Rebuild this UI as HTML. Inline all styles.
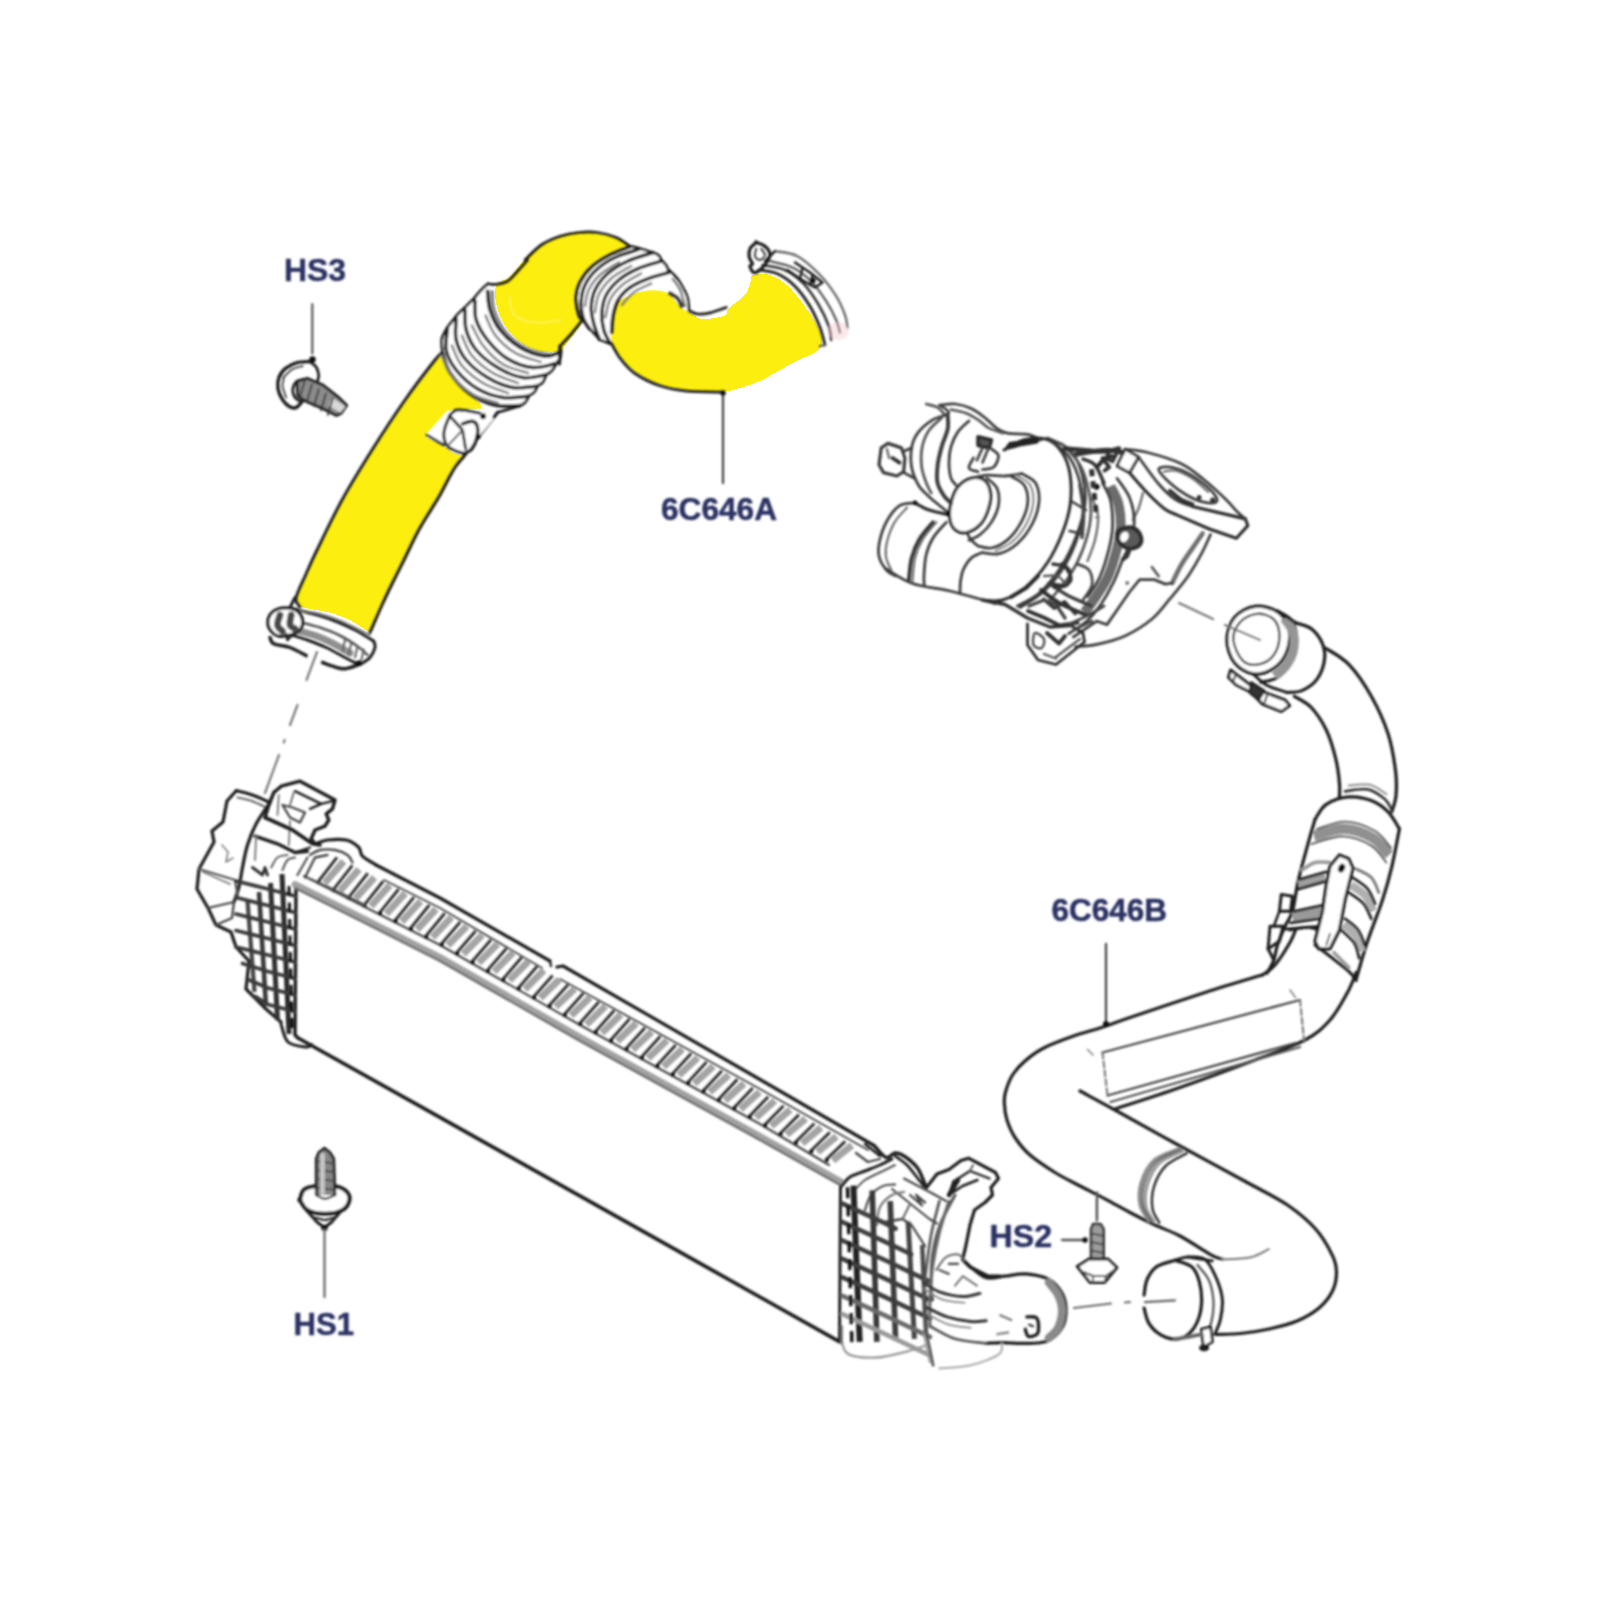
<!DOCTYPE html>
<html><head><meta charset="utf-8"><title>Intercooler hoses diagram</title>
<style>
html,body{margin:0;padding:0;background:#fff;}
body{width:1600px;height:1600px;overflow:hidden;font-family:"Liberation Sans",sans-serif;}
svg{display:block;}
</style></head><body>
<svg width="1600" height="1600" viewBox="0 0 1600 1600">
<defs><filter id="soft" x="0" y="0" width="1600" height="1600" filterUnits="userSpaceOnUse"><feGaussianBlur stdDeviation="1.0"/></filter></defs>
<rect width="1600" height="1600" fill="#fff"/>
<g shape-rendering="crispEdges">
<path d="M300.0 607.0L296.0 598.0L306.0 574.0L317.0 550.0L342.0 500.0L372.0 450.0L405.0 400.0L435.0 360.0L442.0 353.0L450.0 372.0L470.0 394.0L481.0 404.0L481.0 409.4L456.0 409.4L447.0 411.5L427.0 434.0L427.0 437.5L444.0 445.6L452.0 452.0L460.0 455.0L465.0 455.0L456.0 466.0L450.0 476.0L440.0 495.0L429.0 513.0L417.5 532.5L404.0 560.0L393.0 582.0L382.5 604.0L370.0 632.5L350.0 620.0L332.0 613.0Z" stroke="none" stroke-width="0.0" fill="#fcee0e" />
<path d="M496.0 286.0C494.0 291.7 495.3 302.8 498.0 311.0C500.7 319.2 506.0 328.5 512.0 335.0C518.0 341.5 526.3 347.2 534.0 350.0C541.7 352.8 552.7 353.0 558.0 352.0C563.3 351.0 562.0 349.3 566.0 344.0C570.0 338.7 580.3 327.8 582.0 320.0C583.7 312.2 576.3 303.5 576.0 297.0C575.7 290.5 576.3 286.7 580.0 281.0C583.7 275.3 589.7 268.5 598.0 263.0C606.3 257.5 627.0 252.2 630.0 248.0C633.0 243.8 621.3 240.5 616.0 238.0C610.7 235.5 604.2 234.0 598.0 233.0C591.8 232.0 585.3 231.5 579.0 232.0C572.7 232.5 566.5 233.7 560.0 236.0C553.5 238.3 545.8 242.2 540.0 246.0C534.2 249.8 530.0 253.8 525.0 259.0C520.0 264.2 514.8 272.5 510.0 277.0C505.2 281.5 498.0 280.3 496.0 286.0Z" stroke="none" stroke-width="0.0" fill="#fcee0e" />
<path d="M614.0 307.0C615.5 303.7 617.0 302.2 620.0 300.0C623.0 297.8 627.0 295.7 632.0 294.0C637.0 292.3 644.2 290.3 650.0 290.0C655.8 289.7 662.8 290.3 667.0 292.0C671.2 293.7 672.8 297.7 675.0 300.0C677.2 302.3 677.7 304.0 680.0 306.0C682.3 308.0 685.5 309.8 689.0 312.0C692.5 314.2 696.8 318.0 701.0 319.0C705.2 320.0 709.8 318.7 714.0 318.0C718.2 317.3 723.5 316.7 726.0 315.0C728.5 313.3 725.8 311.3 729.0 308.0C732.2 304.7 741.3 299.5 745.0 295.0C748.7 290.5 749.7 284.3 751.0 281.0C752.3 277.7 749.8 276.0 753.0 275.0C756.2 274.0 764.3 273.3 770.0 275.0C775.7 276.7 781.3 280.0 787.0 285.0C792.7 290.0 799.3 298.8 804.0 305.0C808.7 311.2 812.0 316.5 815.0 322.0C818.0 327.5 821.2 333.7 822.0 338.0C822.8 342.3 821.5 345.4 820.0 348.0C818.5 350.6 816.3 351.6 813.0 353.5C809.7 355.4 805.5 356.8 800.0 359.5C794.5 362.2 786.7 366.4 780.0 370.0C773.3 373.6 766.7 378.0 760.0 381.0C753.3 384.0 746.3 386.2 740.0 388.0C733.7 389.8 728.7 391.4 722.0 392.0C715.3 392.6 706.2 391.8 700.0 391.5C693.8 391.2 691.7 391.1 685.0 390.0C678.3 388.9 668.3 388.0 660.0 385.0C651.7 382.0 641.7 376.7 635.0 372.0C628.3 367.3 624.0 362.0 620.0 357.0C616.0 352.0 612.5 348.2 611.0 342.0C609.5 335.8 610.5 325.8 611.0 320.0C611.5 314.2 612.5 310.3 614.0 307.0Z" stroke="none" stroke-width="0.0" fill="#fcee0e" />
</g>
<g filter="url(#soft)" stroke-linecap="round" stroke-linejoin="round">
<path d="M300.0 607.0C299.3 605.5 295.0 603.5 296.0 598.0C297.0 592.5 302.5 582.0 306.0 574.0C309.5 566.0 311.0 562.3 317.0 550.0C323.0 537.7 332.8 516.7 342.0 500.0C351.2 483.3 361.5 466.7 372.0 450.0C382.5 433.3 394.5 415.0 405.0 400.0C415.5 385.0 428.8 367.8 435.0 360.0C441.2 352.2 440.8 354.2 442.0 353.0" stroke="#1c1c1c" stroke-width="2.88" fill="none" />
<path d="M370.0 632.5C372.1 627.8 378.7 612.4 382.5 604.0C386.3 595.6 389.4 589.3 393.0 582.0C396.6 574.7 399.9 568.2 404.0 560.0C408.1 551.8 413.3 540.3 417.5 532.5C421.7 524.7 425.2 519.2 429.0 513.0C432.8 506.8 436.5 501.2 440.0 495.0C443.5 488.8 447.3 480.8 450.0 476.0C452.7 471.2 453.5 469.5 456.0 466.0C458.5 462.5 461.3 459.8 465.0 455.0C468.7 450.2 472.5 444.7 478.0 437.5C483.5 430.3 494.7 416.2 498.0 412.0" stroke="#1c1c1c" stroke-width="2.99" fill="none" />
<path d="M481.2 409.4L456.2 409.4L446.9 411.2L426.9 433.8L426.9 437.5L443.8 445.6L451.9 451.9L460.0 455.0L465.0 454.4L478.1 437.5L493.8 418.8L481.2 409.4Z" stroke="none" stroke-width="0.0" fill="#fff" />
<path d="M426.9 435.0L443.8 445.0" stroke="#333" stroke-width="2.76" fill="none" />
<path d="M450.0 415.0C451.0 414.2 453.6 411.0 456.2 410.3C458.8 409.6 461.6 410.1 465.6 410.6C469.6 411.1 477.6 412.7 480.0 413.1" stroke="#1c1c1c" stroke-width="2.99" fill="none" />
<path d="M450.0 415.0C449.2 417.1 446.0 424.0 445.0 427.5C444.0 431.0 443.4 433.1 443.8 436.2C444.2 439.3 445.4 443.7 447.5 446.2C449.6 448.7 453.3 449.9 456.2 451.2C459.1 452.5 463.5 453.4 465.0 453.8" stroke="#1c1c1c" stroke-width="2.99" fill="none" />
<path d="M451.2 417.5L462.5 430.0L465.6 448.8" stroke="#1c1c1c" stroke-width="2.76" fill="none" />
<path d="M462.5 423.8C464.1 423.4 469.5 421.0 471.9 421.2C474.3 421.4 476.0 422.5 476.9 425.0C477.8 427.5 478.0 432.2 477.2 436.2C476.4 440.2 473.8 446.1 471.9 448.8C470.0 451.5 466.7 451.9 465.6 452.5" stroke="#1c1c1c" stroke-width="3.45" fill="none" />
<path d="M447.5 446.2L462.5 430.0" stroke="#555" stroke-width="1.84" fill="none" />
<circle cx="483.1" cy="416.2" r="3" fill="#111"/>
<circle cx="478.1" cy="436.6" r="2.6" fill="#111"/>
<path d="M497.5 412.5L520.0 406.0" stroke="#1c1c1c" stroke-width="2.76" fill="none" />
<path d="M487.5 283.8C485.3 284.9 478.8 293.6 475.0 297.5C471.2 301.4 468.1 304.4 465.0 307.5C461.9 310.6 459.1 312.9 456.2 316.2C453.3 319.5 449.8 323.9 447.5 327.5C445.2 331.1 443.4 333.3 442.5 337.5C441.6 341.7 440.6 346.7 441.9 352.5C443.1 358.3 445.3 365.6 450.0 372.5C454.7 379.4 462.5 388.4 470.0 393.8C477.5 399.2 486.7 403.0 495.0 405.0C503.3 407.0 514.4 407.1 520.0 405.6C525.6 404.1 525.9 399.4 528.8 396.2C531.7 393.0 534.6 389.7 537.5 386.2C540.4 382.7 543.1 378.7 546.2 375.0C549.3 371.3 553.7 367.8 556.2 363.8C558.7 359.8 563.1 352.5 561.2 351.2C559.3 349.9 551.9 356.8 545.0 356.2C538.1 355.6 527.5 351.9 520.0 347.5C512.5 343.1 505.0 336.2 500.0 330.0C495.0 323.8 492.0 316.5 490.0 310.0C488.0 303.5 488.5 295.6 488.1 291.2C487.7 286.8 489.7 282.8 487.5 283.8Z" stroke="none" stroke-width="0.0" fill="#fff" />
<path d="M492.0 292.0C492.3 295.2 491.7 304.2 494.0 311.0C496.3 317.8 500.5 326.7 506.0 333.0C511.5 339.3 519.7 345.3 527.0 349.0C534.3 352.7 546.2 354.0 550.0 355.0" stroke="#8a8a8a" stroke-width="3.91" fill="none" />
<path d="M487.5 291.2C487.9 294.3 487.9 303.5 490.0 310.0C492.1 316.5 495.0 323.8 500.0 330.0C505.0 336.2 512.5 343.1 520.0 347.5C527.5 351.9 538.3 355.4 545.0 356.2C551.7 357.0 557.5 353.1 560.0 352.5" stroke="#1c1c1c" stroke-width="3.45" fill="none" />
<path d="M475.0 301.2C475.2 304.3 474.1 313.5 476.2 320.0C478.3 326.5 482.3 333.5 487.5 340.0C492.7 346.5 500.0 354.2 507.5 358.8C515.0 363.4 524.6 366.7 532.5 367.5C540.4 368.3 551.2 364.4 555.0 363.8" stroke="#1c1c1c" stroke-width="3.45" fill="none" />
<path d="M465.0 310.0C465.2 313.3 464.3 323.3 466.2 330.0C468.1 336.7 471.0 343.8 476.2 350.0C481.4 356.2 489.8 362.9 497.5 367.5C505.2 372.1 514.6 376.2 522.5 377.5C530.4 378.8 541.2 375.4 545.0 375.0" stroke="#1c1c1c" stroke-width="3.45" fill="none" />
<path d="M456.2 318.8C456.2 322.3 454.5 333.1 456.2 340.0C457.9 346.9 461.0 353.8 466.2 360.0C471.4 366.2 479.8 372.9 487.5 377.5C495.2 382.1 504.4 386.1 512.5 387.5C520.6 388.9 532.2 386.4 536.2 386.2" stroke="#1c1c1c" stroke-width="3.45" fill="none" />
<path d="M447.5 328.8C447.3 332.3 444.8 343.1 446.2 350.0C447.6 356.9 451.0 363.5 456.2 370.0C461.4 376.5 469.8 384.2 477.5 388.8C485.2 393.4 494.2 396.3 502.5 397.5C510.8 398.7 523.3 396.4 527.5 396.2" stroke="#1c1c1c" stroke-width="3.45" fill="none" />
<path d="M442.5 352.5C443.8 355.8 445.4 365.6 450.0 372.5C454.6 379.4 462.5 388.4 470.0 393.8C477.5 399.2 486.7 403.0 495.0 405.0C503.3 407.0 515.8 405.5 520.0 405.6" stroke="#1c1c1c" stroke-width="3.45" fill="none" />
<path d="M485.6 315.6C487.3 318.9 490.6 329.4 495.6 335.6C500.6 341.9 508.1 348.7 515.6 353.1C523.1 357.5 536.4 360.4 540.6 361.9" stroke="#808080" stroke-width="2.53" fill="none" />
<path d="M471.9 325.6C473.8 328.9 477.9 339.1 483.1 345.6C488.3 352.1 495.6 359.8 503.1 364.4C510.6 369.0 523.9 371.7 528.1 373.1" stroke="#808080" stroke-width="2.53" fill="none" />
<path d="M461.9 335.6C463.6 338.9 466.7 349.4 471.9 355.6C477.1 361.9 485.4 368.5 493.1 373.1C500.8 377.7 513.9 381.4 518.1 383.1" stroke="#808080" stroke-width="2.53" fill="none" />
<path d="M451.9 345.6C453.6 348.9 456.7 359.4 461.9 365.6C467.1 371.9 475.4 378.5 483.1 383.1C490.8 387.7 503.9 391.4 508.1 393.1" stroke="#808080" stroke-width="2.53" fill="none" />
<path d="M441.9 355.6C443.6 358.9 446.7 369.1 451.9 375.6C457.1 382.1 465.4 389.8 473.1 394.4C480.8 399.0 493.9 401.7 498.1 403.1" stroke="#808080" stroke-width="2.53" fill="none" />
<path d="M488.1 283.8C487.2 284.6 484.7 286.5 482.5 288.8C480.3 291.1 476.2 295.4 475.0 297.5C473.8 299.6 475.0 300.6 475.0 301.2" stroke="#1c1c1c" stroke-width="2.76" fill="none" />
<path d="M475.0 297.5C473.3 299.2 466.7 305.4 465.0 307.5C463.3 309.6 465.0 309.6 465.0 310.0" stroke="#1c1c1c" stroke-width="2.76" fill="none" />
<path d="M465.0 307.5C463.5 308.9 457.7 314.3 456.2 316.2C454.7 318.1 456.2 318.4 456.2 318.8" stroke="#1c1c1c" stroke-width="2.76" fill="none" />
<path d="M456.2 316.2C454.8 318.1 448.9 325.4 447.5 327.5C446.1 329.6 447.5 328.6 447.5 328.8" stroke="#1c1c1c" stroke-width="2.76" fill="none" />
<path d="M447.5 327.5C446.6 329.4 442.7 334.6 441.9 338.8C441.1 343.0 442.4 350.2 442.5 352.5" stroke="#1c1c1c" stroke-width="2.76" fill="none" />
<path d="M561.2 350.0C561.0 351.5 561.0 356.5 560.0 358.8C559.0 361.1 555.8 363.0 555.0 363.8" stroke="#1c1c1c" stroke-width="2.76" fill="none" />
<path d="M556.2 363.8C555.4 365.0 553.1 369.3 551.2 371.2C549.3 373.1 546.0 374.4 545.0 375.0" stroke="#1c1c1c" stroke-width="2.76" fill="none" />
<path d="M546.2 375.0C545.6 376.2 544.2 380.6 542.5 382.5C540.8 384.4 537.2 385.6 536.2 386.2" stroke="#1c1c1c" stroke-width="2.76" fill="none" />
<path d="M537.5 386.2C536.9 387.2 535.5 390.8 533.8 392.5C532.1 394.2 528.5 395.6 527.5 396.2" stroke="#1c1c1c" stroke-width="2.76" fill="none" />
<path d="M528.8 396.2C528.2 397.2 526.5 400.9 525.0 402.5C523.5 404.1 520.8 405.1 520.0 405.6" stroke="#1c1c1c" stroke-width="2.76" fill="none" />
<path d="M527.5 260.0C525.8 261.9 520.8 267.7 517.5 271.2C514.2 274.7 511.2 279.0 507.5 281.2C503.8 283.4 498.2 284.0 495.0 284.4C491.8 284.8 489.2 283.9 488.1 283.8" stroke="#1c1c1c" stroke-width="2.76" fill="none" />
<path d="M525.0 260.0C527.7 257.5 535.4 249.0 541.2 245.0C547.0 241.0 553.7 238.3 560.0 236.2C566.3 234.1 572.5 233.1 578.8 232.5C585.0 231.9 591.3 231.7 597.5 232.5C603.7 233.3 610.8 235.2 616.2 237.5C621.6 239.8 627.7 244.8 630.0 246.2" stroke="#1c1c1c" stroke-width="2.76" fill="none" />
<path d="M510.0 297.5C510.4 300.0 509.8 308.6 512.5 312.5C515.2 316.4 520.8 319.5 526.2 321.2C531.6 322.9 539.2 322.7 545.0 322.5C550.8 322.3 558.5 320.4 561.2 320.0" stroke="#fdf57a" stroke-width="1.38" fill="none" />
<path d="M582.5 320.0C580.8 322.1 576.2 328.1 572.5 332.5C568.8 336.9 562.1 343.9 560.0 346.2" stroke="#1c1c1c" stroke-width="2.76" fill="none" />
<path d="M560.0 346.2L559.4 363.8" stroke="#1c1c1c" stroke-width="3.45" fill="none" />
<path d="M630.0 246.2C625.0 247.2 616.5 251.4 610.0 255.0C603.5 258.6 596.2 262.9 591.2 267.5C586.2 272.1 582.5 277.5 580.0 282.5C577.5 287.5 576.4 292.1 576.2 297.5C576.0 302.9 577.8 311.2 578.8 315.0C579.8 318.8 580.8 317.7 582.5 320.0C584.2 322.3 586.1 325.5 588.8 328.8C591.5 332.1 595.3 337.5 598.8 340.0C602.3 342.5 607.9 345.1 610.0 343.8C612.1 342.6 610.8 337.3 611.2 332.5C611.6 327.7 611.5 320.0 612.5 315.0C613.5 310.0 614.2 306.0 617.5 302.5C620.8 299.0 627.1 295.9 632.5 293.8C637.9 291.7 644.2 290.2 650.0 290.0C655.8 289.8 663.3 290.8 667.5 292.5C671.7 294.2 672.9 297.7 675.0 300.0C677.1 302.3 677.7 304.3 680.0 306.2C682.3 308.1 687.5 312.6 688.8 311.2C690.0 309.8 688.5 301.4 687.5 297.5C686.5 293.6 685.0 290.8 682.5 287.5C680.0 284.2 674.8 280.4 672.5 277.5C670.2 274.6 670.7 272.9 668.8 270.0C666.9 267.1 663.9 262.9 661.2 260.0C658.5 257.1 656.0 254.4 652.5 252.5C649.0 250.6 643.8 249.9 640.0 248.8C636.2 247.8 635.0 245.2 630.0 246.2Z" stroke="none" stroke-width="0.0" fill="#fff" />
<path d="M630.0 246.9C626.7 248.2 616.5 251.6 610.0 255.0C603.5 258.4 596.2 262.9 591.2 267.5C586.2 272.1 582.5 277.5 580.0 282.5C577.5 287.5 576.4 292.1 576.2 297.5C576.0 302.9 577.6 311.1 578.8 315.0C579.9 318.9 582.4 319.7 583.1 320.6" stroke="#1c1c1c" stroke-width="3.45" fill="none" />
<path d="M638.8 249.4C634.8 250.8 622.1 254.1 615.0 257.5C607.9 260.9 601.2 265.4 596.2 270.0C591.2 274.6 587.5 279.8 585.0 285.0C582.5 290.2 581.5 295.8 581.2 301.2C580.9 306.6 581.7 312.9 583.1 317.5C584.5 322.1 588.4 326.9 589.4 328.8" stroke="#1c1c1c" stroke-width="3.45" fill="none" />
<path d="M652.5 252.8C648.3 254.2 635.0 257.7 627.5 261.2C620.0 264.7 612.9 269.0 607.5 273.8C602.1 278.6 597.7 284.4 595.0 290.0C592.3 295.6 591.4 301.9 591.2 307.5C591.0 313.1 592.4 318.5 593.8 323.8C595.2 329.1 598.5 336.8 599.4 339.4" stroke="#1c1c1c" stroke-width="3.45" fill="none" />
<path d="M661.2 261.2C657.2 262.5 644.6 265.7 637.5 268.8C630.4 271.9 624.0 275.6 618.8 280.0C613.6 284.4 609.0 289.6 606.2 295.0C603.4 300.4 602.3 306.7 601.9 312.5C601.5 318.3 602.4 324.9 603.8 330.0C605.1 335.1 609.0 340.9 610.0 343.1" stroke="#1c1c1c" stroke-width="3.45" fill="none" />
<path d="M668.8 272.5C665.2 273.6 654.0 276.3 647.5 278.8C641.0 281.3 634.9 284.0 630.0 287.5C625.1 291.0 620.9 295.4 618.1 300.0C615.3 304.6 614.2 309.6 613.1 315.0C612.0 320.4 611.8 329.6 611.5 332.5" stroke="#1c1c1c" stroke-width="3.45" fill="none" />
<path d="M618.8 262.2C615.7 264.3 605.0 270.2 600.0 274.8C595.0 279.4 591.3 284.6 588.8 289.8C586.3 295.0 585.6 303.3 585.0 306.0" stroke="#808080" stroke-width="2.53" fill="none" />
<path d="M631.2 266.0C627.9 268.1 616.6 273.7 611.2 278.5C605.8 283.3 601.5 289.2 598.8 294.8C596.1 300.4 595.6 309.3 595.0 312.2" stroke="#808080" stroke-width="2.53" fill="none" />
<path d="M641.2 273.5C638.1 275.4 627.7 280.4 622.5 284.8C617.3 289.2 612.8 294.4 610.0 299.8C607.2 305.2 606.3 314.3 605.6 317.2" stroke="#808080" stroke-width="2.53" fill="none" />
<path d="M651.2 283.5C648.3 284.9 638.7 288.6 633.8 292.2C628.9 295.8 623.9 302.7 621.9 304.8" stroke="#808080" stroke-width="2.53" fill="none" />
<path d="M630.0 246.2C631.7 246.6 636.2 247.4 640.0 248.5C643.8 249.6 650.4 251.8 652.5 252.5" stroke="#1c1c1c" stroke-width="2.76" fill="none" />
<path d="M652.5 252.2C653.5 252.8 657.3 254.1 658.8 255.6C660.3 257.1 661.0 260.3 661.5 261.2" stroke="#1c1c1c" stroke-width="2.76" fill="none" />
<path d="M661.2 260.0C662.0 260.9 664.9 263.5 666.2 265.6C667.5 267.7 668.5 271.4 669.0 272.5" stroke="#1c1c1c" stroke-width="2.76" fill="none" />
<path d="M668.8 270.0C670.2 271.5 675.1 275.8 677.5 278.8C679.9 281.8 681.4 285.0 683.1 288.1C684.8 291.2 686.5 293.8 687.5 297.5C688.5 301.2 688.8 308.4 689.0 310.6" stroke="#1c1c1c" stroke-width="2.76" fill="none" />
<path d="M670.0 293.1C671.2 293.9 675.5 295.9 677.5 298.1C679.5 300.3 681.2 304.9 681.9 306.2" stroke="#333" stroke-width="4.14" fill="none" />
<path d="M672.5 278.8C673.8 280.7 677.9 285.4 680.0 290.0C682.1 294.6 684.2 303.5 685.0 306.2" stroke="#555" stroke-width="2.07" fill="none" />
<path d="M583.1 320.0L589.4 328.8" stroke="#1c1c1c" stroke-width="2.76" fill="none" />
<path d="M589.4 328.1L599.4 339.4" stroke="#1c1c1c" stroke-width="2.76" fill="none" />
<path d="M599.4 339.4L610.0 343.8" stroke="#1c1c1c" stroke-width="2.76" fill="none" />
<path d="M688.8 310.6C690.2 311.2 694.0 313.6 697.5 314.0C701.0 314.4 705.2 313.9 710.0 312.8C714.8 311.7 723.5 308.4 726.2 307.5" stroke="#1c1c1c" stroke-width="2.76" fill="none" />
<path d="M611.2 343.1C612.7 345.6 616.0 353.0 620.0 358.1C624.0 363.2 628.3 368.9 635.0 373.5C641.7 378.1 651.7 382.9 660.0 385.8C668.3 388.7 674.6 389.7 685.0 390.8C695.4 391.9 716.2 392.0 722.5 392.2" stroke="#1c1c1c" stroke-width="2.76" fill="none" />
<path d="M758.8 270.0C761.9 270.6 771.5 271.1 777.5 273.8C783.5 276.5 789.6 280.8 795.0 286.2C800.4 291.6 805.8 299.3 810.0 306.2C814.2 313.1 817.5 321.0 820.0 327.5C822.5 334.0 824.2 342.1 825.0 345.0" stroke="#1c1c1c" stroke-width="2.76" fill="none" />
<path d="M762.5 265.0C766.2 265.8 778.1 266.9 785.0 270.0C791.9 273.1 798.2 278.0 803.8 283.8C809.4 289.6 814.6 297.9 818.8 305.0C823.0 312.1 826.7 320.4 828.8 326.2C830.9 332.0 830.8 337.7 831.2 340.0" stroke="#333" stroke-width="2.53" fill="none" />
<path d="M770.0 261.2C773.8 262.2 785.6 264.2 792.5 267.5C799.4 270.8 805.6 275.6 811.2 281.2C816.8 286.8 822.0 294.7 826.2 301.2C830.4 307.7 833.9 314.8 836.2 320.0C838.5 325.2 839.4 330.4 840.0 332.5" stroke="#555" stroke-width="2.3" fill="none" />
<path d="M775.0 251.2C778.8 252.0 790.0 252.2 797.5 256.2C805.0 260.2 813.5 268.3 820.0 275.0C826.5 281.7 832.0 289.5 836.2 296.2C840.4 302.9 843.1 309.8 845.0 315.0C846.9 320.2 847.1 325.4 847.5 327.5" stroke="#666" stroke-width="2.3" fill="none" />
<path d="M775.0 251.2C774.2 252.0 771.7 254.5 770.0 256.2C768.3 257.9 765.8 260.4 765.0 261.2" stroke="#1c1c1c" stroke-width="2.53" fill="none" />
<path d="M795.0 262.5L810.0 272.5L822.5 282.5L815.0 287.5L800.0 278.8L787.5 270.0" stroke="#1c1c1c" stroke-width="2.53" fill="none" />
<path d="M802.5 267.5L800.0 278.8" stroke="#1c1c1c" stroke-width="2.3" fill="none" />
<path d="M812.5 275.0L810.0 285.0" stroke="#1c1c1c" stroke-width="2.3" fill="none" />
<circle cx="813.1" cy="280.6" r="2.6" fill="#111"/>
<path d="M756.2 242.5C755.2 243.6 751.1 246.3 750.0 248.8C748.9 251.3 749.0 255.0 749.4 257.5C749.8 260.0 752.4 262.4 752.5 263.8C752.6 265.2 749.8 264.8 750.0 266.2C750.2 267.6 752.1 271.9 753.8 272.5C755.5 273.1 757.7 271.9 760.0 270.0C762.3 268.1 765.8 263.9 767.5 261.2C769.2 258.5 770.4 256.3 770.0 253.8C769.6 251.3 767.3 248.1 765.0 246.2C762.7 244.3 757.7 243.1 756.2 242.5C754.7 241.9 757.2 241.4 756.2 242.5Z" stroke="#1c1c1c" stroke-width="3.22" fill="none" />
<path d="M756.2 248.8C756.0 250.0 754.4 254.3 755.0 256.2C755.6 258.1 758.3 260.2 760.0 260.0C761.7 259.8 764.8 256.9 765.0 255.0C765.2 253.1 761.8 249.8 761.2 248.8" stroke="#444" stroke-width="2.07" fill="none" />
<ellipse cx="838" cy="331" rx="11" ry="9" fill="#f6c6cc" opacity="0.4"/>
<path d="M825.0 345.0L820.0 346.2" stroke="#555" stroke-width="2.3" fill="none" />
<path d="M295.0 597.5L290.0 607.5" stroke="#1c1c1c" stroke-width="2.99" fill="none" />
<path d="M290.0 608.1C292.9 608.8 300.4 610.5 307.5 612.5C314.6 614.5 324.6 617.1 332.5 620.0C340.4 622.9 348.1 626.5 355.0 630.0C361.9 633.5 370.7 639.3 373.8 641.2" stroke="#1c1c1c" stroke-width="2.99" fill="none" />
<path d="M300.0 610.0C303.3 610.6 313.5 612.1 320.0 613.8C326.5 615.5 332.6 617.5 338.8 620.0C345.1 622.5 352.3 626.3 357.5 628.8C362.7 631.3 367.9 634.0 370.0 635.0" stroke="#777" stroke-width="1.84" fill="none" />
<path d="M373.8 641.2C374.0 642.2 375.6 644.8 375.0 647.5C374.4 650.2 372.3 654.8 370.0 657.5C367.7 660.2 362.7 662.8 361.2 663.8" stroke="#1c1c1c" stroke-width="2.99" fill="none" />
<path d="M291.2 635.0C293.9 635.8 301.7 637.9 307.5 640.0C313.3 642.1 319.9 644.6 326.2 647.5C332.4 650.4 339.8 654.8 345.0 657.5C350.2 660.2 355.4 662.8 357.5 663.8" stroke="#1c1c1c" stroke-width="2.99" fill="none" />
<path d="M301.2 622.5C304.3 623.3 313.7 625.4 320.0 627.5C326.3 629.6 332.6 631.9 338.8 635.0C345.1 638.1 352.7 642.9 357.5 646.2C362.3 649.5 365.8 653.5 367.5 655.0" stroke="#555" stroke-width="2.53" fill="none" />
<path d="M297.5 630.6C300.4 631.4 309.2 633.5 315.0 635.6C320.8 637.7 326.7 640.2 332.5 643.1C338.3 646.0 347.1 651.4 350.0 653.1" stroke="#8f8f8f" stroke-width="6.9" fill="none" />
<path d="M345.0 640.0L342.5 651.2" stroke="#666" stroke-width="2.07" fill="none" />
<path d="M351.2 643.1L348.8 654.4" stroke="#666" stroke-width="2.07" fill="none" />
<path d="M357.5 646.2L355.0 657.5" stroke="#666" stroke-width="2.07" fill="none" />
<path d="M363.8 649.4L361.2 660.6" stroke="#666" stroke-width="2.07" fill="none" />
<path d="M270.0 637.5C270.6 638.5 270.5 642.1 273.8 643.8C277.1 645.5 284.6 645.5 290.0 647.5C295.4 649.5 303.5 654.2 306.2 655.6" stroke="#1c1c1c" stroke-width="3.45" fill="none" />
<path d="M322.5 662.5C324.2 663.1 328.8 665.2 332.5 666.2C336.2 667.2 340.4 669.1 345.0 668.8C349.6 668.5 357.5 665.1 360.0 664.4" stroke="#1c1c1c" stroke-width="3.45" fill="none" />
<circle cx="358.8" cy="663.1" r="2.8" fill="#111"/>
<path d="M290.0 608.1C286.9 607.7 282.1 607.6 278.8 608.8C275.5 609.9 271.8 612.3 270.0 615.0C268.2 617.7 267.7 622.1 268.1 625.0C268.5 627.9 270.7 630.6 272.5 632.5C274.3 634.4 275.9 635.8 278.8 636.2C281.7 636.6 286.5 636.0 290.0 635.0C293.5 634.0 297.9 632.5 300.0 630.0C302.1 627.5 302.9 623.1 302.5 620.0C302.1 616.9 299.6 613.2 297.5 611.2C295.4 609.2 293.1 608.5 290.0 608.1Z" stroke="#1c1c1c" stroke-width="3.22" fill="#fff" />
<path d="M280.0 615.0C279.6 616.7 277.1 622.3 277.5 625.0C277.9 627.7 281.7 630.2 282.5 631.2" stroke="#4a4a4a" stroke-width="6.9" fill="none" />
<path d="M291.2 615.0C291.0 616.7 289.4 622.7 290.0 625.0C290.6 627.3 294.2 628.2 295.0 628.8" stroke="#4a4a4a" stroke-width="6.9" fill="none" />
<path d="M286.2 633.8L287.5 640.0" stroke="#1c1c1c" stroke-width="2.3" fill="none" />
<path d="M292.5 635.0L287.5 640.0" stroke="#1c1c1c" stroke-width="2.3" fill="none" />
<path d="M317 652L306.5 680M297.5 705L290 725M284.6 740L283.8 742.5M279 755L265 793" stroke="#7a7a7a" stroke-width="2.2" fill="none"/>
<path d="M312.3 304.1L312.3 353.6" stroke="#555" stroke-width="2.18" fill="none" />
<circle cx="312.5" cy="359.5" r="3.2" fill="#111"/>
<path d="M309.5 361.5C307.4 361.7 301.0 361.5 297.1 362.6C293.2 363.7 288.9 365.8 285.9 368.2C282.9 370.6 280.4 373.8 279.1 377.2C277.8 380.6 277.4 384.8 278.0 388.5C278.6 392.2 280.6 396.7 282.5 399.7C284.4 402.7 286.9 405.2 289.2 406.5C291.4 407.8 293.9 408.4 296.0 407.6C298.1 406.9 300.8 402.9 301.8 402.0" stroke="#1c1c1c" stroke-width="3.45" fill="none" />
<path d="M309.5 361.5C310.6 362.4 314.7 364.9 316.2 367.1C317.7 369.4 318.5 372.6 318.7 375.0C318.9 377.4 317.8 380.2 317.6 381.2" stroke="#1c1c1c" stroke-width="2.76" fill="none" />
<path d="M301.8 402.0C300.6 401.2 296.4 399.6 294.9 397.5C293.4 395.4 292.6 392.2 292.8 389.6C293.0 387.0 294.4 383.7 296.2 382.0C297.9 380.3 302.1 379.9 303.3 379.5" stroke="#1c1c1c" stroke-width="2.76" fill="none" />
<path d="M283.1 377.8C284.6 376.4 288.8 371.4 292.1 369.4C295.4 367.4 300.9 366.6 302.7 366.0" stroke="#555" stroke-width="2.07" fill="none" />
<path d="M286.1 397.5C285.5 395.6 282.9 389.3 282.5 386.2C282.1 383.1 283.6 379.9 283.8 378.6" stroke="#555" stroke-width="2.07" fill="none" />
<path d="M297.1 381.2L307.2 378.4L323.0 385.1L338.7 397.5L346.6 405.4L341.2 413.2L336.5 415.5L323.0 408.7L305.0 400.9L297.7 395.8Z" stroke="#222" stroke-width="2.99" fill="#8c8c8c" />
<path d="M332.0 397.5L345.5 406.5L340.4 412.7L328.6 405.4Z" stroke="none" stroke-width="0.0" fill="#d8d8d8" />
<path d="M305.0 380.1L299.9 396.9" stroke="#333" stroke-width="1.72" fill="none" />
<path d="M312.0 384.6L306.9 401.4" stroke="#333" stroke-width="1.72" fill="none" />
<path d="M318.9 389.1L313.9 405.9" stroke="#333" stroke-width="1.72" fill="none" />
<path d="M325.9 393.6L320.9 410.4" stroke="#333" stroke-width="1.72" fill="none" />
<path d="M332.9 398.1L327.8 414.9" stroke="#333" stroke-width="1.72" fill="none" />
<path d="M296.0 884.0L295.0 1035.0L298.0 1038.0" stroke="#1c1c1c" stroke-width="3.45" fill="none" />
<path d="M298.0 1038.0L440.0 1117.3L640.0 1229.6L839.4 1341.7" stroke="#1c1c1c" stroke-width="3.68" fill="none" />
<path d="M840.5 1186.0L839.5 1342.0" stroke="#1c1c1c" stroke-width="2.99" fill="none" />
<path d="M295.0 884.5L365.0 919.5L440.0 957.5L580.0 1037.5L760.0 1136.5L842.0 1182.5" stroke="#a2a2a2" stroke-width="6.9" fill="none" />
<path d="M295.0 888.0L365.0 923.0L440.0 961.0L580.0 1041.0L760.0 1140.0L842.0 1186.0" stroke="#666" stroke-width="2.07" fill="none" />
<path d="M304.0 876.0L365.0 907.0L440.0 945.0L580.0 1025.0L760.0 1124.0L829.0 1165.0" stroke="#444" stroke-width="2.07" fill="none" />
<path d="M376.0 865.0L440.0 898.0L550.0 961.0" stroke="#1c1c1c" stroke-width="3.22" fill="none" />
<path d="M550.0 961.0L551.0 966.0" stroke="#1c1c1c" stroke-width="2.3" fill="none" />
<path d="M557.0 967.0L563.0 966.0L760.0 1079.5L874.0 1145.5" stroke="#1c1c1c" stroke-width="3.22" fill="none" />
<path d="M384.0 880.0L440.0 908.0L542.0 968.0" stroke="#444" stroke-width="1.84" fill="none" />
<path d="M560.0 979.0L760.0 1089.0L868.0 1150.0" stroke="#444" stroke-width="1.84" fill="none" />
<path d="M324.7 883.0L343.7 861.4M340.1 890.7L359.1 869.3M355.5 898.4L374.5 877.3M370.9 906.1L389.9 885.2M386.3 913.9L405.3 893.2M401.7 921.7L420.7 901.1M417.1 929.5L436.1 909.0M432.5 937.3L451.5 917.2M447.9 945.2L466.9 926.1M463.3 954.0L482.3 934.9M478.7 962.8L497.7 943.7M494.1 971.6L513.1 952.5M509.5 980.4L528.5 961.3M524.9 989.2L543.9 970.2M540.3 998.0L559.3 979.4M555.7 1006.8L574.7 988.7M571.1 1015.6L590.1 997.3M586.5 1024.4L605.5 1005.9M601.9 1032.9L620.9 1014.5M617.3 1041.3L636.3 1023.1M632.7 1049.8L651.7 1031.7M648.1 1058.3L667.1 1040.3M663.5 1066.7L682.5 1048.9M678.9 1075.2L697.9 1057.5M694.3 1083.7L713.3 1066.1M709.7 1092.1L728.7 1074.8M725.1 1100.6L744.1 1083.4M740.5 1109.1L759.5 1092.0M755.9 1117.6L774.9 1100.7M771.3 1126.1L790.3 1109.7M786.7 1134.7L805.7 1118.6M802.1 1143.4L821.1 1127.5M817.5 1152.0L836.5 1136.4M832.9 1160.6L851.9 1145.3" stroke="#a4a4a4" stroke-width="7" fill="none" stroke-linecap="butt"/>
<path d="M318.0 882.0L337.0 857.4M333.4 889.7L352.4 865.3M348.8 897.4L367.8 873.3M364.2 905.1L383.2 881.2M379.6 912.9L398.6 889.2M395.0 920.7L414.0 897.1M410.4 928.5L429.4 905.0M425.8 936.3L444.8 913.2M441.2 944.2L460.2 922.1M456.6 953.0L475.6 930.9M472.0 961.8L491.0 939.7M487.4 970.6L506.4 948.5M502.8 979.4L521.8 957.3M518.2 988.2L537.2 966.2M533.6 997.0L552.6 975.4M549.0 1005.8L568.0 984.7M564.4 1014.6L583.4 993.3M579.8 1023.4L598.8 1001.9M595.2 1031.9L614.2 1010.5M610.6 1040.3L629.6 1019.1M626.0 1048.8L645.0 1027.7M641.4 1057.3L660.4 1036.3M656.8 1065.7L675.8 1044.9M672.2 1074.2L691.2 1053.5M687.6 1082.7L706.6 1062.1M703.0 1091.1L722.0 1070.8M718.4 1099.6L737.4 1079.4M733.8 1108.1L752.8 1088.0M749.2 1116.6L768.2 1096.7M764.6 1125.1L783.6 1105.7M780.0 1133.7L799.0 1114.6M795.4 1142.4L814.4 1123.5M810.8 1151.0L829.8 1132.4M826.2 1159.6L845.2 1141.3" stroke="#303030" stroke-width="3" fill="none" stroke-linecap="butt"/>
<circle cx="318.5" cy="882.5" r="2.1" fill="#111"/><circle cx="333.9" cy="890.2" r="2.1" fill="#111"/><circle cx="349.3" cy="897.9" r="2.1" fill="#111"/><circle cx="364.7" cy="905.6" r="2.1" fill="#111"/><circle cx="380.1" cy="913.4" r="2.1" fill="#111"/><circle cx="395.5" cy="921.2" r="2.1" fill="#111"/><circle cx="410.9" cy="929.0" r="2.1" fill="#111"/><circle cx="426.3" cy="936.8" r="2.1" fill="#111"/><circle cx="441.7" cy="944.7" r="2.1" fill="#111"/><circle cx="457.1" cy="953.5" r="2.1" fill="#111"/><circle cx="472.5" cy="962.3" r="2.1" fill="#111"/><circle cx="487.9" cy="971.1" r="2.1" fill="#111"/><circle cx="503.3" cy="979.9" r="2.1" fill="#111"/><circle cx="518.7" cy="988.7" r="2.1" fill="#111"/><circle cx="534.1" cy="997.5" r="2.1" fill="#111"/><circle cx="549.5" cy="1006.3" r="2.1" fill="#111"/><circle cx="564.9" cy="1015.1" r="2.1" fill="#111"/><circle cx="580.3" cy="1023.9" r="2.1" fill="#111"/><circle cx="595.7" cy="1032.4" r="2.1" fill="#111"/><circle cx="611.1" cy="1040.8" r="2.1" fill="#111"/><circle cx="626.5" cy="1049.3" r="2.1" fill="#111"/><circle cx="641.9" cy="1057.8" r="2.1" fill="#111"/><circle cx="657.3" cy="1066.2" r="2.1" fill="#111"/><circle cx="672.7" cy="1074.7" r="2.1" fill="#111"/><circle cx="688.1" cy="1083.2" r="2.1" fill="#111"/><circle cx="703.5" cy="1091.6" r="2.1" fill="#111"/><circle cx="718.9" cy="1100.1" r="2.1" fill="#111"/><circle cx="734.3" cy="1108.6" r="2.1" fill="#111"/><circle cx="749.7" cy="1117.1" r="2.1" fill="#111"/><circle cx="765.1" cy="1125.6" r="2.1" fill="#111"/><circle cx="780.5" cy="1134.2" r="2.1" fill="#111"/><circle cx="795.9" cy="1142.9" r="2.1" fill="#111"/><circle cx="811.3" cy="1151.5" r="2.1" fill="#111"/><circle cx="826.7" cy="1160.1" r="2.1" fill="#111"/>
<path d="M315.0 843.8C317.1 843.2 322.3 840.6 327.5 840.0C332.7 839.4 341.0 838.8 346.2 840.0C351.4 841.2 356.1 844.8 358.8 847.5C361.5 850.2 359.6 853.3 362.5 856.2C365.4 859.1 373.9 863.5 376.2 865.0" stroke="#1c1c1c" stroke-width="3.22" fill="none" />
<path d="M310.0 855.0C311.7 854.2 315.8 850.8 320.0 850.0C324.2 849.2 330.4 849.2 335.0 850.0C339.6 850.8 344.6 852.9 347.5 855.0C350.4 857.1 351.7 861.2 352.5 862.5" stroke="#444" stroke-width="2.3" fill="none" />
<path d="M305.0 877.5L315.0 857.5L327.5 855.0" stroke="#444" stroke-width="2.3" fill="none" />
<path d="M297.5 875.0L307.5 857.5" stroke="#555" stroke-width="2.3" fill="none" />
<path d="M310.0 878.8L335.0 890.0L365.0 905.0" stroke="#555" stroke-width="2.07" fill="none" />
<path d="M273.8 792.5L281.2 786.2L300.0 781.2L335.0 800.0L332.5 808.8L326.2 813.8L328.8 820.0L325.0 826.2L315.0 830.0L311.2 838.8L315.0 843.8" stroke="#1c1c1c" stroke-width="3.45" fill="none" />
<path d="M273.8 792.5L268.8 805.0L265.0 817.5" stroke="#1c1c1c" stroke-width="3.45" fill="none" />
<path d="M295.0 791.2L321.2 803.8L310.0 808.8" stroke="#1c1c1c" stroke-width="2.53" fill="none" />
<path d="M321.2 803.8L332.5 801.2" stroke="#1c1c1c" stroke-width="2.3" fill="none" />
<path d="M282.5 805.0L292.5 807.5L305.0 812.5L300.0 822.5L290.0 817.5L282.5 805.0" stroke="#444" stroke-width="2.3" fill="none" />
<path d="M293.8 792.5L290.0 805.0" stroke="#666" stroke-width="1.84" fill="none" />
<path d="M278.8 795.0L277.5 815.0" stroke="#777" stroke-width="1.84" fill="none" />
<path d="M290.0 821.2L288.8 845.0" stroke="#777" stroke-width="1.84" fill="none" />
<path d="M265.0 817.5L292.5 830.0L312.5 843.8L320.0 845.0" stroke="#1c1c1c" stroke-width="3.68" fill="none" />
<path d="M255.0 836.2L277.5 843.8L295.0 852.5L307.5 851.2" stroke="#1c1c1c" stroke-width="3.45" fill="none" />
<path d="M295.0 852.5L310.0 847.5" stroke="#1c1c1c" stroke-width="2.3" fill="none" />
<path d="M236.2 790.6C238.9 791.3 246.9 793.0 252.5 795.0C258.1 797.0 267.1 801.2 270.0 802.5" stroke="#1c1c1c" stroke-width="3.22" fill="none" />
<path d="M237.5 797.5C240.0 798.1 247.9 799.6 252.5 801.2C257.1 802.8 262.9 806.0 265.0 806.9" stroke="#666" stroke-width="2.07" fill="none" />
<path d="M236.0 791.0L227.0 801.0L223.0 822.0L212.0 831.0L214.0 842.0L199.0 869.0L197.0 889.0L208.0 908.0L216.0 925.0L231.0 932.0L236.0 947.0L249.0 961.0L246.0 989.0L266.0 1009.0L281.0 1022.0" stroke="#1c1c1c" stroke-width="3.22" fill="none" />
<path d="M270.0 802.5C267.7 806.0 259.9 816.7 256.2 823.8C252.4 830.9 249.8 837.7 247.5 845.0C245.2 852.3 243.9 860.4 242.5 867.5C241.1 874.6 240.2 881.7 238.8 887.5C237.4 893.3 234.6 900.0 233.8 902.5" stroke="#1c1c1c" stroke-width="3.22" fill="none" />
<path d="M256.2 835.0L255.0 860.0" stroke="#777" stroke-width="1.84" fill="none" />
<path d="M199.0 869.0L235.0 880.0L238.0 898.0" stroke="#555" stroke-width="2.3" fill="none" />
<path d="M208.0 908.0L234.0 902.0" stroke="#444" stroke-width="2.3" fill="none" />
<path d="M216.0 925.0L232.0 918.0L234.0 902.0" stroke="#444" stroke-width="2.3" fill="none" />
<path d="M222.0 845.0L228.0 852.0L226.0 862.0L233.0 858.0" stroke="#888" stroke-width="1.72" fill="none" />
<path d="M203.0 872.0L230.0 884.0" stroke="#777" stroke-width="1.84" fill="none" />
<path d="M282 874L289 1034" stroke="#2a2a2a" stroke-width="5" fill="none" stroke-linecap="butt"/>
<path d="M270.5 883L277.5 1020" stroke="#333" stroke-width="5" fill="none" stroke-linecap="butt"/>
<path d="M259 892L266 1006" stroke="#3a3a3a" stroke-width="4.6" fill="none" stroke-linecap="butt"/>
<path d="M247.5 901L254.5 992" stroke="#444" stroke-width="4.2" fill="none" stroke-linecap="butt"/>
<path d="M236.0 881.0L268.0 889.0L295.0 896.0" stroke="#3a3a3a" stroke-width="3.68" fill="none" />
<path d="M236.0 897.5L268.0 905.5L295.0 912.5" stroke="#3a3a3a" stroke-width="3.68" fill="none" />
<path d="M236.0 914.0L268.0 922.0L295.0 929.0" stroke="#3a3a3a" stroke-width="3.68" fill="none" />
<path d="M236.0 930.5L268.0 938.5L295.0 945.5" stroke="#3a3a3a" stroke-width="3.68" fill="none" />
<path d="M236.0 947.0L268.0 955.0L295.0 962.0" stroke="#3a3a3a" stroke-width="3.68" fill="none" />
<path d="M242.5 963.5L268.0 971.5L295.0 978.5" stroke="#3a3a3a" stroke-width="3.68" fill="none" />
<path d="M249.0 980.0L268.0 988.0L295.0 995.0" stroke="#3a3a3a" stroke-width="3.68" fill="none" />
<path d="M255.5 996.5L268.0 1004.5L295.0 1011.5" stroke="#3a3a3a" stroke-width="3.68" fill="none" />
<path d="M289 886L292 1034" stroke="#111" stroke-width="3" stroke-dasharray="10 6.5" fill="none" stroke-linecap="butt"/>
<path d="M271.2 867.5C272.2 865.8 274.8 859.6 277.5 857.5C280.2 855.4 285.8 855.4 287.5 855.0" stroke="#666" stroke-width="2.07" fill="none" />
<path d="M282.5 870.0C283.3 868.3 285.4 862.1 287.5 860.0C289.6 857.9 293.8 857.9 295.0 857.5" stroke="#555" stroke-width="2.07" fill="none" />
<path d="M252.5 867.5L262.5 875.0L265.0 867.5L267.5 875.0" stroke="#333" stroke-width="2.88" fill="none" />
<path d="M281.0 1024.0C282.2 1027.0 283.8 1038.2 288.0 1042.0C292.2 1045.8 302.1 1046.6 306.0 1047.0C309.9 1047.4 310.6 1045.0 311.5 1044.6" stroke="#1c1c1c" stroke-width="2.99" fill="none" />
<path d="M874.0 1145.5C876.0 1147.5 882.5 1156.2 886.0 1157.5C889.5 1158.8 892.0 1153.2 895.0 1153.0C898.0 1152.8 900.2 1153.5 904.0 1156.0C907.8 1158.5 914.0 1163.2 917.5 1168.0C921.0 1172.8 923.5 1181.2 925.0 1184.5C926.5 1187.8 926.2 1187.0 926.5 1187.5" stroke="#1c1c1c" stroke-width="3.45" fill="none" />
<path d="M895.0 1156.0C897.0 1157.5 903.0 1161.0 907.0 1165.0C911.0 1169.0 916.2 1176.5 919.0 1180.0C921.8 1183.5 922.8 1185.0 923.5 1186.0" stroke="#1c1c1c" stroke-width="2.76" fill="none" />
<path d="M926.5 1187.5L937.0 1174.0L949.0 1169.5L961.0 1160.5L968.5 1158.2L995.5 1172.5L998.5 1178.5L991.0 1187.5L992.5 1195.0L985.0 1202.5L974.5 1210.0L970.0 1225.0L965.5 1247.5L962.5 1259.5L970.0 1267.0L988.0 1276.0L1000.0 1276.0" stroke="#1c1c1c" stroke-width="3.22" fill="none" />
<path d="M953.5 1181.5L970.0 1171.0L989.5 1178.5" stroke="#1c1c1c" stroke-width="2.3" fill="none" />
<path d="M970.0 1171.0L973.0 1165.0" stroke="#555" stroke-width="1.84" fill="none" />
<path d="M953.5 1181.5L949.0 1195.0L962.5 1186.0L977.5 1180.0" stroke="#1c1c1c" stroke-width="2.53" fill="none" />
<path d="M949.0 1195.0L958.0 1180.0" stroke="#222" stroke-width="4.6" fill="none" />
<path d="M955.0 1195.0C952.5 1200.0 943.8 1215.0 940.0 1225.0C936.2 1235.0 934.0 1245.0 932.5 1255.0C931.0 1265.0 931.0 1277.5 931.0 1285.0C931.0 1292.5 932.2 1297.5 932.5 1300.0" stroke="#555" stroke-width="2.99" fill="none" />
<path d="M904.0 1178.5L932.5 1193.5L946.0 1201.0" stroke="#444" stroke-width="2.07" fill="none" />
<path d="M892.0 1189.0L929.5 1219.0L937.0 1223.5" stroke="#444" stroke-width="2.07" fill="none" />
<path d="M910.0 1195.0L922.0 1205.5L916.0 1195.0L925.0 1202.5" stroke="#444" stroke-width="2.3" fill="none" />
<path d="M841.7 1186.0C843.1 1184.5 846.1 1179.5 850.0 1177.0C853.9 1174.5 860.0 1173.0 865.0 1171.0C870.0 1169.0 875.5 1167.0 880.0 1165.0C884.5 1163.0 890.0 1160.0 892.0 1159.0" stroke="#1c1c1c" stroke-width="2.99" fill="none" />
<path d="M853.0 1192.0C855.0 1190.0 860.0 1183.5 865.0 1180.0C870.0 1176.5 878.0 1173.5 883.0 1171.0C888.0 1168.5 893.0 1166.0 895.0 1165.0" stroke="#555" stroke-width="2.07" fill="none" />
<path d="M865.0 1210.0C866.0 1207.5 868.0 1199.0 871.0 1195.0C874.0 1191.0 879.0 1187.8 883.0 1186.0C887.0 1184.2 893.0 1184.8 895.0 1184.5" stroke="#555" stroke-width="2.3" fill="none" />
<path d="M877.0 1225.0C877.5 1222.0 877.5 1212.0 880.0 1207.0C882.5 1202.0 888.0 1197.5 892.0 1195.0C896.0 1192.5 902.0 1192.5 904.0 1192.0" stroke="#777" stroke-width="2.3" fill="none" />
<path d="M884.5 1222.0L902.5 1219.0L911.5 1225.0L925.0 1246.0" stroke="#444" stroke-width="2.3" fill="none" />
<path d="M902.5 1219.0L910.0 1204.0" stroke="#666" stroke-width="2.07" fill="none" />
<path d="M856.0 1153.0L868.0 1162.0L880.0 1159.0" stroke="#444" stroke-width="2.3" fill="none" />
<path d="M865.0 1144.0L880.0 1156.0" stroke="#1c1c1c" stroke-width="2.53" fill="none" />
<path d="M853.4 1185.6L859.7 1341.9" stroke="#222" stroke-width="6" fill="none" stroke-linecap="butt"/>
<path d="M872.2 1190.3L876.9 1341.9" stroke="#383838" stroke-width="5.6" fill="none" stroke-linecap="butt"/>
<path d="M890.2 1201.2L895.6 1340.3" stroke="#3c3c3c" stroke-width="5.6" fill="none" stroke-linecap="butt"/>
<path d="M908.1 1221.6L914.4 1338.8" stroke="#444" stroke-width="5" fill="none" stroke-linecap="butt"/>
<path d="M922.2 1245.0L926.1 1335.6" stroke="#4a4a4a" stroke-width="4.4" fill="none" stroke-linecap="butt"/>
<path d="M842.5 1203.6L884.7 1223.1L895.6 1228.6" stroke="#3c3c3c" stroke-width="4.6" fill="none" />
<path d="M842.5 1222.0L884.7 1241.6L911.2 1254.3" stroke="#3c3c3c" stroke-width="4.6" fill="none" />
<path d="M842.5 1240.5L884.7 1260.0L930.0 1281.6" stroke="#3c3c3c" stroke-width="4.6" fill="none" />
<path d="M842.5 1258.9L884.7 1278.4L930.0 1300.0" stroke="#3c3c3c" stroke-width="4.6" fill="none" />
<path d="M842.5 1277.3L884.7 1296.9L930.0 1318.5" stroke="#3c3c3c" stroke-width="4.6" fill="none" />
<path d="M842.5 1295.8L884.7 1315.3L930.0 1336.9" stroke="#6a6a6a" stroke-width="4.6" fill="none" />
<path d="M842.5 1314.2L884.7 1333.8L930.0 1355.3" stroke="#9a9a9a" stroke-width="4.6" fill="none" />
<path d="M847.5 1187.2L851.9 1343.4" stroke="#111" stroke-width="3.4" stroke-dasharray="11 7" fill="none" stroke-linecap="butt"/>
<path d="M939.4 1201.2C938.1 1206.4 933.7 1222.1 931.6 1232.5C929.5 1242.9 928.2 1253.4 926.9 1263.8C925.6 1274.2 924.1 1284.6 923.8 1295.0C923.5 1305.4 924.3 1317.1 925.3 1326.2C926.3 1335.3 928.7 1343.2 930.0 1349.7C931.3 1356.2 932.6 1362.7 933.1 1365.3" stroke="#555" stroke-width="2.76" fill="none" />
<path d="M948.8 1201.2C947.2 1206.4 942.0 1222.1 939.4 1232.5C936.8 1242.9 934.7 1253.4 933.1 1263.8C931.5 1274.2 930.5 1284.6 930.0 1295.0C929.5 1305.4 930.0 1321.0 930.0 1326.2" stroke="#666" stroke-width="2.99" fill="none" />
<path d="M841.7 1341.9C842.9 1344.0 842.9 1351.8 848.8 1354.4C854.7 1357.0 867.0 1358.0 876.9 1357.5C886.8 1357.0 899.8 1353.3 908.1 1351.2C916.4 1349.1 923.8 1346.0 926.9 1345.0" stroke="#999" stroke-width="2.3" fill="none" />
<path d="M841.7 1326.2L841.7 1343.4" stroke="#777" stroke-width="2.53" fill="none" />
<path d="M962.8 1259.1C964.1 1260.4 966.7 1263.8 970.6 1266.9C974.5 1270.0 980.5 1276.2 986.2 1277.8C991.9 1279.3 998.5 1276.8 1005.0 1276.2C1011.5 1275.6 1018.0 1273.4 1025.3 1273.9C1032.6 1274.4 1042.8 1276.4 1048.8 1279.4C1054.8 1282.4 1058.3 1287.2 1061.2 1291.9C1064.1 1296.6 1065.6 1301.8 1065.9 1307.5C1066.2 1313.2 1065.7 1320.7 1062.8 1326.2C1059.9 1331.7 1054.3 1337.4 1048.8 1340.3C1043.3 1343.2 1037.8 1343.0 1030.0 1343.4C1022.2 1343.8 1009.2 1342.7 1001.9 1342.7C994.6 1342.7 988.8 1343.3 986.2 1343.4" stroke="#1c1c1c" stroke-width="3.22" fill="none" />
<path d="M1048.8 1282.5C1050.3 1284.6 1055.9 1290.3 1058.1 1295.0C1060.3 1299.7 1062.0 1305.1 1062.0 1310.6C1062.0 1316.1 1060.3 1323.2 1058.1 1327.8C1055.9 1332.4 1050.3 1336.3 1048.8 1338.0" stroke="#8a8a8a" stroke-width="8.05" fill="none" />
<path d="M923.8 1282.5C926.4 1284.1 932.9 1289.6 939.4 1291.9C945.9 1294.2 956.0 1296.3 962.8 1296.6C969.6 1296.8 977.1 1293.9 980.0 1293.4" stroke="#333" stroke-width="2.99" fill="none" />
<path d="M926.9 1307.5C930.3 1309.1 939.9 1314.6 947.2 1316.9C954.5 1319.2 964.1 1320.9 970.6 1321.6C977.1 1322.2 983.6 1320.9 986.2 1320.8" stroke="#333" stroke-width="2.99" fill="none" />
<path d="M930.0 1326.2C934.2 1328.3 945.6 1335.9 955.0 1338.8C964.4 1341.7 981.0 1342.6 986.2 1343.4" stroke="#555" stroke-width="2.76" fill="none" />
<path d="M923.8 1288.8C926.9 1290.6 935.7 1297.4 942.5 1299.7C949.3 1302.0 960.8 1302.3 964.4 1302.8" stroke="#888" stroke-width="1.84" fill="none" />
<path d="M926.9 1313.8C930.5 1315.6 941.5 1322.4 948.8 1324.7C956.1 1327.0 967.0 1327.3 970.6 1327.8" stroke="#888" stroke-width="1.84" fill="none" />
<path d="M936.2 1270.0C937.8 1267.9 942.0 1260.1 945.6 1257.5C949.2 1254.9 955.0 1253.9 958.1 1254.4C961.2 1254.9 963.4 1259.6 964.4 1260.6" stroke="#666" stroke-width="2.07" fill="none" />
<path d="M939.4 1270.0L948.8 1273.9" stroke="#555" stroke-width="2.3" fill="none" />
<path d="M948.8 1263.8L958.1 1263.8" stroke="#444" stroke-width="2.3" fill="none" />
<path d="M955.0 1285.6L962.8 1276.2L976.9 1285.6" stroke="#777" stroke-width="2.07" fill="none" />
<path d="M1026.9 1316.9C1028.5 1317.0 1034.2 1316.2 1036.2 1317.7C1038.2 1319.2 1038.5 1323.5 1038.6 1326.2C1038.7 1328.9 1038.7 1332.4 1037.0 1334.1C1035.3 1335.8 1030.4 1337.2 1028.4 1336.4C1026.5 1335.6 1025.8 1330.6 1025.3 1329.4" stroke="#222" stroke-width="3.45" fill="none" />
<path d="M1029.2 1324.7L1033.1 1326.2" stroke="#333" stroke-width="2.3" fill="none" />
<path d="M1000.3 1315.3L1011.2 1320.0" stroke="#777" stroke-width="2.3" fill="none" />
<path d="M997.2 1334.1L1008.1 1332.5" stroke="#888" stroke-width="2.3" fill="none" />
<path d="M1001.9 1343.4C1001.4 1345.2 1004.0 1350.8 998.8 1354.4C993.6 1358.1 980.5 1363.0 970.6 1365.3C960.7 1367.6 944.6 1367.9 939.4 1368.4" stroke="#aaa" stroke-width="2.07" fill="none" />
<path d="M923.8 1334.1L930.0 1362.2" stroke="#999" stroke-width="2.07" fill="none" />
<path d="M1074 1308L1111 1303.5M1125 1302.5L1130 1302" stroke="#6a6a6a" stroke-width="2.2" fill="none"/>
<path d="M1096.9 1199.5L1096.9 1220.7" stroke="#555" stroke-width="2.3" fill="none" />
<path d="M1091.0 1229.2L1093.1 1223.9L1100.6 1223.9L1103.7 1229.2L1103.7 1265.4L1091.0 1265.4L1091.0 1229.2Z" stroke="#333" stroke-width="2.53" fill="#9c9c9c" />
<path d="M1091.0 1233.5L1103.7 1236.0" stroke="#333" stroke-width="1.61" fill="none" />
<path d="M1091.0 1242.0L1103.7 1244.5" stroke="#333" stroke-width="1.61" fill="none" />
<path d="M1091.0 1250.5L1103.7 1253.0" stroke="#333" stroke-width="1.61" fill="none" />
<path d="M1091.0 1259.0L1103.7 1261.5" stroke="#333" stroke-width="1.61" fill="none" />
<path d="M1077.2 1266.4L1088.9 1259.0L1108.0 1259.0L1116.9 1267.5L1104.8 1282.4L1089.9 1282.4L1077.2 1266.4Z" stroke="#1c1c1c" stroke-width="2.99" fill="#fff" />
<path d="M1082.5 1271.7L1093.1 1276.0L1105.9 1276.0L1113.3 1270.7" stroke="#444" stroke-width="2.07" fill="none" />
<path d="M1093.1 1276.0L1093.1 1281.9" stroke="#555" stroke-width="1.84" fill="none" />
<path d="M1105.9 1276.0L1104.8 1281.9" stroke="#555" stroke-width="1.84" fill="none" />
<path d="M300.0 1200.0C300.6 1198.3 301.3 1192.3 303.8 1190.0C306.3 1187.7 309.8 1186.8 315.0 1186.2C320.2 1185.6 329.8 1185.4 335.0 1186.2C340.2 1187.0 343.8 1188.9 346.2 1191.2C348.6 1193.5 350.0 1196.9 349.4 1200.0C348.8 1203.1 346.6 1207.7 342.5 1210.0C338.4 1212.3 330.8 1213.8 325.0 1213.8C319.2 1213.8 311.7 1212.3 307.5 1210.0C303.3 1207.7 301.2 1201.7 300.0 1200.0C298.8 1198.3 299.4 1201.7 300.0 1200.0Z" stroke="#1c1c1c" stroke-width="4.14" fill="#fff" />
<path d="M316.2 1195.0L316.2 1158.8L318.8 1152.5L324.4 1148.1L330.0 1152.5L333.8 1158.8L335.0 1195.0" stroke="#222" stroke-width="2.76" fill="#858585" />
<path d="M316.2 1195.0C317.7 1195.6 321.9 1198.8 325.0 1198.8C328.1 1198.8 333.3 1195.6 335.0 1195.0" stroke="#333" stroke-width="2.3" fill="none" />
<path d="M316.5 1161.2L334.8 1163.5" stroke="#444" stroke-width="1.72" fill="none" />
<path d="M316.5 1170.0L334.8 1172.2" stroke="#444" stroke-width="1.72" fill="none" />
<path d="M316.5 1178.8L334.8 1181.0" stroke="#444" stroke-width="1.72" fill="none" />
<path d="M316.5 1187.5L334.8 1189.8" stroke="#444" stroke-width="1.72" fill="none" />
<path d="M322.5 1155.0L322.5 1192.5" stroke="#c8c8c8" stroke-width="4.6" fill="none" />
<path d="M306.2 1210.0L317.5 1222.5L324.4 1227.5L331.2 1222.5L341.9 1210.0" stroke="#1c1c1c" stroke-width="2.99" fill="none" />
<path d="M315.0 1217.5C316.7 1217.9 321.9 1220.0 325.0 1220.0C328.1 1220.0 332.3 1217.9 333.8 1217.5" stroke="#333" stroke-width="2.3" fill="none" />
<circle cx="324.5" cy="1228" r="3.2" fill="#111"/>
<path d="M1226.9 640.0C1226.9 632.5 1229.7 623.1 1234.4 617.5C1239.1 611.9 1247.8 607.2 1255.0 606.3C1262.2 605.4 1271.9 608.1 1277.5 611.9C1283.1 615.6 1287.2 622.2 1288.8 628.8C1290.4 635.4 1289.4 644.8 1286.9 651.3C1284.4 657.8 1279.4 664.4 1273.8 668.1C1268.2 671.9 1259.7 674.7 1253.1 673.8C1246.5 672.9 1238.8 668.1 1234.4 662.5C1230.0 656.9 1226.9 647.5 1226.9 640.0Z" stroke="#1c1c1c" stroke-width="3.22" fill="#fff" />
<path d="M1233.4 640.0C1232.9 633.6 1236.1 626.6 1240.0 622.2C1243.9 617.8 1251.3 614.3 1256.9 613.8C1262.5 613.3 1270.0 615.6 1273.8 619.4C1277.5 623.1 1279.4 630.4 1279.4 636.3C1279.4 642.2 1277.2 650.3 1273.8 655.0C1270.4 659.7 1264.0 663.5 1258.8 664.4C1253.6 665.3 1247.0 664.7 1242.8 660.6C1238.6 656.5 1233.9 646.4 1233.4 640.0Z" stroke="#333" stroke-width="2.3" fill="none" />
<path d="M1277.5 610.9C1280.0 612.6 1289.3 616.1 1292.5 621.3C1295.7 626.5 1296.9 635.0 1296.6 641.9C1296.3 648.8 1293.8 656.6 1290.6 662.5C1287.4 668.4 1282.5 674.2 1277.5 677.5C1272.5 680.8 1263.4 681.4 1260.6 682.2" stroke="#1c1c1c" stroke-width="2.99" fill="none" />
<path d="M1284.1 618.4C1285.6 620.8 1291.6 627.0 1293.1 632.5C1294.6 638.0 1294.4 645.6 1293.1 651.3C1291.8 657.0 1288.5 662.5 1285.4 666.6C1282.3 670.7 1276.5 674.4 1274.7 676.0" stroke="#959595" stroke-width="9.2" fill="none" stroke-linecap="butt"/>
<path d="M1296.3 623.1C1298.8 624.0 1306.9 625.3 1311.3 628.8C1315.7 632.2 1320.3 638.5 1322.5 643.8C1324.7 649.1 1325.3 654.7 1324.4 660.6C1323.5 666.5 1320.7 674.4 1316.9 679.4C1313.2 684.4 1306.9 688.4 1301.9 690.6C1296.9 692.8 1289.4 692.2 1286.9 692.5" stroke="#1c1c1c" stroke-width="3.22" fill="none" />
<path d="M1277.5 610.9L1296.3 623.1" stroke="#1c1c1c" stroke-width="2.99" fill="none" />
<path d="M1253.1 673.8C1255.3 675.7 1260.7 681.9 1266.3 685.0C1271.9 688.1 1283.5 691.2 1286.9 692.5" stroke="#1c1c1c" stroke-width="2.99" fill="none" />
<path d="M1324.4 647.5C1328.5 650.3 1341.0 656.3 1348.8 664.4C1356.6 672.5 1364.8 684.7 1371.3 696.3C1377.8 707.9 1384.0 721.3 1388.1 733.8C1392.1 746.3 1394.3 761.0 1395.6 771.3C1396.9 781.6 1396.6 788.9 1396.0 795.6C1395.4 802.3 1392.6 808.9 1391.9 811.6" stroke="#1c1c1c" stroke-width="3.22" fill="none" />
<path d="M1294.4 696.3C1297.2 698.2 1306.0 701.9 1311.3 707.5C1316.6 713.1 1322.2 721.6 1326.3 730.0C1330.3 738.4 1333.4 749.4 1335.6 758.1C1337.8 766.9 1338.8 775.8 1339.4 782.5C1340.0 789.2 1339.4 795.8 1339.4 798.5" stroke="#1c1c1c" stroke-width="3.22" fill="none" />
<path d="M1230.6 670.0L1255.0 688.8L1285.0 700.0L1289.7 705.6L1281.3 711.6L1262.5 704.1L1251.3 692.5L1236.3 685.0L1228.4 677.5Z" stroke="#1c1c1c" stroke-width="2.99" fill="#fff" />
<path d="M1251.3 682.2L1264.4 690.6L1258.8 700.0L1249.4 692.5Z" stroke="#222" stroke-width="2.3" fill="#333" />
<path d="M1236.3 673.8L1232.5 682.2" stroke="#444" stroke-width="2.07" fill="none" />
<path d="M1268.1 692.5L1264.4 702.8" stroke="#444" stroke-width="2.07" fill="none" />
<path d="M1315.0 819.4C1316.9 816.9 1320.7 808.1 1326.3 804.4C1331.9 800.6 1341.3 797.5 1348.8 796.9C1356.3 796.3 1364.8 798.1 1371.3 800.6C1377.8 803.1 1383.4 807.2 1388.1 811.9C1392.8 816.6 1397.5 826.0 1399.4 828.8" stroke="#1c1c1c" stroke-width="3.22" fill="none" />
<path d="M1345.0 791.3C1348.8 791.0 1360.9 788.1 1367.5 789.4C1374.1 790.6 1380.3 795.4 1384.4 798.8C1388.5 802.2 1390.7 808.1 1391.9 810.0" stroke="#333" stroke-width="2.76" fill="none" />
<path d="M1348.8 785.6C1352.2 785.5 1363.2 783.3 1369.4 784.7C1375.7 786.1 1383.5 792.5 1386.3 794.1" stroke="#999" stroke-width="2.3" fill="none" />
<path d="M1315.0 819.4C1313.8 823.8 1310.3 835.3 1307.5 845.6C1304.7 855.9 1300.6 870.3 1298.1 881.3C1295.6 892.2 1294.7 903.8 1292.5 911.3C1290.3 918.8 1287.5 920.7 1285.0 926.3C1282.5 931.9 1279.4 939.4 1277.5 945.0C1275.6 950.6 1275.5 955.3 1273.8 960.0C1272.1 964.7 1268.3 970.9 1267.2 973.1" stroke="#1c1c1c" stroke-width="3.22" fill="none" />
<path d="M1399.4 828.8C1398.2 835.0 1394.7 854.4 1391.9 866.3C1389.1 878.2 1386.6 887.5 1382.5 900.0C1378.4 912.5 1371.9 928.2 1367.5 941.3C1363.1 954.4 1358.2 972.5 1356.3 978.8" stroke="#1c1c1c" stroke-width="3.22" fill="none" />
<path d="M1314.1 836.3C1319.1 835.0 1334.3 828.5 1344.1 828.8C1353.9 829.1 1365.6 833.7 1373.1 838.1C1380.6 842.5 1386.4 852.2 1389.1 855.0" stroke="#909090" stroke-width="10.35" fill="none" stroke-linecap="butt"/>
<path d="M1316.9 829.1C1321.6 827.9 1335.3 821.3 1345.0 821.6C1354.7 821.9 1367.3 826.6 1375.0 831.0C1382.7 835.4 1388.3 845.1 1391.0 847.9" stroke="#555" stroke-width="1.84" fill="none" />
<path d="M1311.3 844.1C1316.6 842.8 1333.1 836.0 1343.1 836.3C1353.1 836.5 1364.1 841.2 1371.3 845.6C1378.5 850.0 1383.8 859.7 1386.3 862.5" stroke="#555" stroke-width="1.84" fill="none" />
<path d="M1298.5 884.4L1325.3 876.8" stroke="#a0a0a0" stroke-width="8.05" fill="none" stroke-linecap="butt"/>
<path d="M1292.5 917.1L1321.6 911.8" stroke="#9a9a9a" stroke-width="9.2" fill="none" stroke-linecap="butt"/>
<path d="M1351.0 885.0C1353.5 886.9 1362.3 891.9 1366.0 896.3C1369.7 900.7 1371.9 908.8 1373.1 911.3" stroke="#b0b0b0" stroke-width="8.05" fill="none" stroke-linecap="butt"/>
<path d="M1343.5 924.4C1345.7 926.4 1353.6 932.1 1356.6 936.6C1359.6 941.1 1360.7 949.1 1361.5 951.6" stroke="#b0b0b0" stroke-width="8.05" fill="none" stroke-linecap="butt"/>
<path d="M1300.0 879.4L1326.3 871.9" stroke="#1c1c1c" stroke-width="2.76" fill="none" />
<path d="M1296.3 889.7L1324.4 881.6" stroke="#1c1c1c" stroke-width="2.76" fill="none" />
<path d="M1294.4 911.3L1322.5 905.3" stroke="#1c1c1c" stroke-width="2.76" fill="none" />
<path d="M1290.6 922.9L1320.6 918.4" stroke="#1c1c1c" stroke-width="2.76" fill="none" />
<path d="M1285.0 929.1L1318.8 926.3" stroke="#1c1c1c" stroke-width="2.76" fill="none" />
<path d="M1289.7 930.0C1292.7 929.5 1302.7 927.2 1307.5 927.2C1312.3 927.2 1316.9 929.5 1318.8 930.0" stroke="#1c1c1c" stroke-width="2.99" fill="none" />
<path d="M1301.9 870.0C1304.1 868.8 1310.3 863.8 1315.0 862.5C1319.7 861.2 1327.5 862.5 1330.0 862.5" stroke="#999" stroke-width="3.45" fill="none" />
<path d="M1352.5 877.5C1355.0 879.4 1363.8 884.4 1367.5 888.8C1371.2 893.2 1373.8 901.3 1375.0 903.8" stroke="#1c1c1c" stroke-width="2.76" fill="none" />
<path d="M1348.8 892.5C1351.3 894.4 1360.0 899.4 1363.8 903.8C1367.5 908.2 1370.0 916.3 1371.3 918.8" stroke="#1c1c1c" stroke-width="2.76" fill="none" />
<path d="M1345.0 918.8C1347.2 920.7 1354.8 925.6 1358.1 930.0C1361.4 934.4 1363.6 942.5 1364.7 945.0" stroke="#1c1c1c" stroke-width="2.76" fill="none" />
<path d="M1341.3 930.0C1343.5 932.2 1351.4 938.4 1354.4 943.1C1357.4 947.8 1358.3 955.6 1359.1 958.1" stroke="#1c1c1c" stroke-width="2.76" fill="none" />
<path d="M1354.4 868.1C1357.2 869.7 1367.2 873.4 1371.3 877.5C1375.4 881.6 1377.5 890.0 1378.8 892.5" stroke="#777" stroke-width="2.76" fill="none" />
<path d="M1330.0 866.3L1339.4 855.0L1348.8 858.8L1352.9 868.1L1345.0 900.0L1339.4 930.0L1330.0 948.8L1318.8 948.8L1315.0 941.3L1322.5 911.3L1326.3 885.0Z" stroke="#1c1c1c" stroke-width="3.22" fill="#fff" />
<ellipse cx="1341.6" cy="868.1" rx="3.4" ry="4.6" fill="#111" transform="rotate(25 1341.6 868.1)"/>
<path d="M1330.0 933.8L1326.3 945.0" stroke="#555" stroke-width="1.84" fill="none" />
<path d="M1281.3 894.4L1292.5 896.3L1290.6 911.3L1279.4 911.3Z" stroke="#1c1c1c" stroke-width="2.99" fill="none" />
<path d="M1270.0 926.3L1283.1 926.3L1279.4 941.3L1268.1 948.8Z" stroke="#1c1c1c" stroke-width="2.99" fill="none" />
<path d="M1268.1 948.8L1273.8 960.0" stroke="#1c1c1c" stroke-width="2.99" fill="none" />
<path d="M1279.4 911.3L1273.8 926.3" stroke="#1c1c1c" stroke-width="2.53" fill="none" />
<path d="M1315.0 945.0C1317.5 946.9 1324.4 951.9 1330.0 956.3C1335.6 960.7 1344.4 967.2 1348.8 971.3C1353.2 975.3 1355.0 979.0 1356.3 980.6" stroke="#1c1c1c" stroke-width="2.99" fill="none" />
<path d="M1333.8 952.5L1348.8 967.5" stroke="#999" stroke-width="3.45" fill="none" />
<path d="M1295.5 930.0C1294.6 932.1 1293.4 936.7 1290.0 942.5C1286.6 948.3 1279.6 959.6 1275.0 965.0C1270.4 970.4 1264.6 973.3 1262.5 975.0" stroke="#1c1c1c" stroke-width="3.22" fill="none" />
<path d="M1262.0 975.0C1252.5 977.9 1227.0 985.4 1205.0 992.5C1183.0 999.6 1147.5 1011.6 1130.0 1017.5C1112.5 1023.4 1109.2 1025.0 1100.0 1028.0C1090.8 1031.0 1084.4 1032.3 1075.0 1035.6C1065.6 1038.9 1052.1 1043.8 1043.8 1048.0C1035.4 1052.2 1030.2 1056.5 1025.0 1061.0C1019.8 1065.5 1015.8 1069.8 1012.5 1075.0C1009.2 1080.2 1006.9 1087.2 1005.5 1092.0C1004.1 1096.8 1004.1 1099.3 1004.4 1104.0C1004.6 1108.7 1005.2 1114.4 1007.0 1120.0C1008.8 1125.6 1011.2 1131.7 1015.0 1137.5C1018.8 1143.3 1023.3 1149.2 1030.0 1155.0C1036.7 1160.8 1046.7 1167.3 1055.0 1172.5C1063.3 1177.7 1071.7 1181.6 1080.0 1186.0C1088.3 1190.4 1096.7 1194.3 1105.0 1198.8C1113.3 1203.2 1121.7 1208.1 1130.0 1212.5C1138.3 1216.9 1146.7 1221.1 1155.0 1225.0C1163.3 1228.9 1170.4 1230.9 1180.0 1236.0C1189.6 1241.1 1205.5 1251.8 1212.5 1255.6C1219.5 1259.4 1220.4 1258.4 1222.0 1259.0" stroke="#1c1c1c" stroke-width="3.22" fill="none" />
<path d="M1080.0 1091.0C1085.8 1094.2 1098.3 1100.8 1115.0 1110.0C1131.7 1119.2 1157.5 1133.7 1180.0 1146.0C1202.5 1158.3 1232.1 1174.2 1250.0 1184.0C1267.9 1193.8 1276.6 1197.5 1287.5 1205.0C1298.4 1212.5 1308.1 1220.6 1315.6 1229.0C1323.1 1237.4 1329.0 1248.3 1332.5 1255.6C1336.0 1262.8 1336.5 1266.6 1336.5 1272.5C1336.5 1278.4 1335.4 1285.1 1332.5 1291.0C1329.6 1296.9 1324.9 1303.0 1319.0 1308.0C1313.1 1313.0 1305.3 1317.5 1297.0 1321.0C1288.7 1324.5 1278.4 1326.9 1269.0 1329.0C1259.6 1331.1 1249.4 1332.6 1240.6 1333.5C1231.8 1334.4 1220.1 1334.3 1216.0 1334.5" stroke="#1c1c1c" stroke-width="3.22" fill="none" />
<path d="M1115.0 1109.0C1125.8 1105.4 1156.7 1095.7 1180.0 1087.5C1203.3 1079.3 1234.2 1067.9 1255.0 1060.0C1275.8 1052.1 1292.5 1046.7 1305.0 1040.0C1317.5 1033.3 1322.9 1027.9 1330.0 1020.0C1337.1 1012.1 1343.1 1000.4 1347.5 992.5C1351.9 984.6 1354.8 975.8 1356.2 972.5" stroke="#1c1c1c" stroke-width="3.22" fill="none" />
<path d="M1102.5 1052.5L1300.0 1000.0" stroke="#444" stroke-width="2.3" fill="none" />
<path d="M1107.5 1095.5L1295.5 1043.0" stroke="#444" stroke-width="2.3" fill="none" />
<path d="M1110.5 1102.0L1300.0 1047.0" stroke="#555" stroke-width="2.3" fill="none" />
<path d="M1102.5 1052.5L1107.5 1095.5" stroke="#777" stroke-width="2.07" fill="none" stroke-dasharray="6 3"/>
<path d="M1300.0 1000.0L1304.0 1040.0" stroke="#777" stroke-width="2.07" fill="none" stroke-dasharray="6 3"/>
<path d="M1087.5 1049.5L1093.0 1055.0" stroke="#888" stroke-width="1.72" fill="none" />
<path d="M1290.0 990.0L1295.5 997.5" stroke="#888" stroke-width="1.72" fill="none" />
<path d="M1097.0 1192.5L1097.0 1218.8" stroke="#555" stroke-width="2.3" fill="none" />
<path d="M1221.9 1259.4C1226.6 1259.1 1242.2 1259.2 1250.0 1257.5C1257.8 1255.8 1265.7 1250.5 1268.8 1249.1" stroke="#777" stroke-width="2.07" fill="none" />
<path d="M1175.0 1260.3C1171.9 1261.4 1161.0 1263.6 1156.3 1266.9C1151.6 1270.2 1148.9 1275.3 1146.9 1280.0C1144.9 1284.7 1144.6 1292.5 1144.1 1295.0" stroke="#1c1c1c" stroke-width="3.22" fill="none" />
<path d="M1144.1 1308.1C1144.9 1310.6 1146.1 1318.7 1148.8 1323.1C1151.5 1327.5 1155.6 1331.7 1160.0 1334.4C1164.4 1337.1 1170.3 1339.1 1175.0 1339.1C1179.7 1339.1 1184.3 1337.4 1188.1 1334.4C1191.8 1331.4 1195.2 1326.6 1197.5 1321.3C1199.8 1316.0 1201.3 1309.1 1201.6 1302.5C1201.9 1295.9 1201.0 1287.8 1199.4 1281.9C1197.8 1276.0 1196.0 1270.5 1191.9 1266.9C1187.8 1263.3 1177.8 1261.4 1175.0 1260.3" stroke="#1c1c1c" stroke-width="3.22" fill="none" />
<path d="M1175.0 1260.3C1177.2 1259.8 1183.1 1257.2 1188.1 1257.1C1193.1 1256.9 1200.3 1255.9 1205.0 1259.4C1209.7 1262.9 1213.4 1271.5 1216.3 1278.1C1219.2 1284.7 1221.6 1291.9 1222.3 1298.8C1223.0 1305.7 1221.7 1313.5 1220.4 1319.4C1219.2 1325.3 1215.7 1331.9 1214.8 1334.4" stroke="#1c1c1c" stroke-width="2.99" fill="none" />
<path d="M1197.5 1265.0C1199.4 1267.5 1206.1 1274.1 1208.8 1280.0C1211.5 1285.9 1212.9 1293.7 1213.4 1300.6C1213.9 1307.5 1212.7 1316.2 1211.6 1321.3C1210.5 1326.4 1207.7 1329.4 1206.9 1331.0" stroke="#555" stroke-width="2.3" fill="none" />
<path d="M1188.1 1257.1L1212.5 1260.9" stroke="#1c1c1c" stroke-width="2.76" fill="none" />
<path d="M1201.3 1329.1L1210.6 1326.9L1212.5 1341.9L1203.5 1347.1Z" stroke="#1c1c1c" stroke-width="2.76" fill="#fff" />
<ellipse cx="1204.1" cy="1347.9" rx="5" ry="3.4" fill="#1a1a1a"/>
<path d="M1175.0 1339.1C1177.5 1338.7 1185.6 1337.4 1190.0 1336.6C1194.4 1335.8 1199.4 1334.8 1201.3 1334.4" stroke="#666" stroke-width="3.91" fill="none" />
<path d="M1145.0 1302.1L1175.0 1300.3" stroke="#666" stroke-width="2.2"/>
<path d="M1178.8 1149.1C1174.7 1151.0 1160.6 1154.8 1154.4 1160.4C1148.2 1166.0 1143.9 1175.1 1141.6 1182.5C1139.3 1189.9 1139.2 1198.7 1140.5 1205.0C1141.8 1211.3 1147.7 1217.8 1149.1 1220.4" stroke="#8a8a8a" stroke-width="3.91" fill="none" />
<path d="M1182.5 1151.0C1178.7 1153.0 1165.5 1157.2 1159.6 1162.8C1153.7 1168.4 1149.6 1177.1 1147.3 1184.4C1145.0 1191.8 1144.7 1200.7 1145.8 1206.9C1146.9 1213.1 1152.6 1219.1 1154.0 1221.5" stroke="#9a9a9a" stroke-width="3.45" fill="none" />
<path d="M1180.6 1149.9C1176.7 1151.8 1163.0 1155.9 1157.0 1161.5C1151.0 1167.1 1146.7 1176.0 1144.4 1183.4C1142.1 1190.8 1141.9 1199.7 1143.1 1205.9C1144.3 1212.2 1150.2 1218.4 1151.6 1220.9" stroke="#555" stroke-width="1.61" fill="none" />
<path d="M1186.6 1153.4C1183.1 1155.5 1171.0 1160.5 1165.6 1166.0C1160.2 1171.5 1156.2 1179.5 1154.0 1186.6C1151.8 1193.7 1151.6 1202.8 1152.5 1208.8C1153.4 1214.8 1158.2 1220.3 1159.3 1222.6" stroke="#333" stroke-width="2.53" fill="none" />
<path d="M1179 603L1213 619M1225 625L1260 640" stroke="#777" stroke-width="2.2" fill="none"/>
<path d="M915.0 503.0C912.4 503.5 903.9 502.8 899.2 505.8C894.5 508.8 890.2 515.1 886.9 521.0C883.6 526.9 880.9 535.2 879.6 541.2C878.3 547.2 878.0 552.1 879.2 557.0C880.4 561.9 884.1 567.3 886.9 570.5C889.7 573.7 894.4 575.2 895.9 576.1" stroke="#3a3a3a" stroke-width="2.76" fill="none" />
<path d="M907.1 507.5C905.0 509.9 898.0 516.5 894.7 522.1C891.4 527.7 888.6 535.4 887.1 541.2C885.6 547.0 885.3 552.1 886.0 557.0C886.7 561.9 890.5 568.2 891.4 570.5" stroke="#666" stroke-width="2.07" fill="none" />
<path d="M915.0 503.0C917.2 504.1 923.1 507.8 928.5 509.7C933.9 511.6 944.4 513.7 947.6 514.5" stroke="#2a2a2a" stroke-width="3.22" fill="none" />
<path d="M933.0 522.1C930.8 524.9 923.1 533.0 919.5 539.0C915.9 545.0 913.4 551.2 911.6 558.1C909.8 565.0 909.3 576.9 908.8 580.6" stroke="#333" stroke-width="3.68" fill="none" />
<path d="M936.4 522.1C934.1 524.9 926.5 533.0 922.9 539.0C919.3 545.0 916.7 551.0 915.0 558.1C913.3 565.2 912.9 577.8 912.5 581.7" stroke="#666" stroke-width="2.07" fill="none" />
<path d="M946.5 522.1C944.2 524.7 936.4 532.5 933.0 537.9C929.6 543.3 927.7 548.5 926.2 554.7C924.7 560.9 924.3 569.9 924.0 575.0C923.7 580.1 924.2 583.4 924.2 585.1" stroke="#3a3a3a" stroke-width="2.76" fill="none" />
<path d="M885.5 568.5C890.0 571.0 901.8 579.8 912.5 583.5C923.2 587.2 938.2 588.2 950.0 591.0C961.8 593.8 975.5 597.9 983.0 600.0C990.5 602.1 993.0 603.1 995.0 603.7" stroke="#3a3a3a" stroke-width="2.76" fill="none" />
<path d="M982.5 552.5C980.6 553.4 974.4 555.3 971.2 558.1C968.0 560.9 965.2 565.6 963.4 569.4C961.6 573.1 961.2 576.7 960.6 580.6C960.0 584.5 960.1 590.9 960.0 593.0" stroke="#3a3a3a" stroke-width="2.76" fill="none" />
<path d="M957.7 487.2C961.1 483.1 966.7 479.3 971.2 478.2C975.7 477.1 981.5 477.9 984.7 480.5C987.9 483.1 990.0 489.1 990.6 494.0C991.2 498.9 989.8 504.6 988.1 509.7C986.4 514.8 983.8 520.6 980.2 524.4C976.6 528.2 970.8 531.6 966.7 532.5C962.6 533.4 958.3 532.3 955.5 530.0C952.7 527.7 950.6 523.2 949.9 518.7C949.1 514.2 949.7 508.2 951.0 503.0C952.3 497.8 954.3 491.3 957.7 487.2Z" stroke="#2a2a2a" stroke-width="3.1" fill="#fff" />
<path d="M987.0 478.2C988.7 479.9 995.2 483.9 997.1 488.4C999.0 492.9 999.4 499.6 998.5 505.2C997.6 510.8 994.5 517.2 991.5 522.1C988.5 527.0 984.0 531.5 980.2 534.5C976.5 537.5 970.9 539.3 969.0 540.3" stroke="#3a3a3a" stroke-width="2.76" fill="none" />
<path d="M971.2 478.2C973.8 477.7 981.4 475.5 987.0 475.1C992.6 474.7 999.2 476.2 1005.0 476.0C1010.8 475.8 1019.1 474.1 1021.9 473.7" stroke="#3a3a3a" stroke-width="2.76" fill="none" />
<path d="M1010.6 476.0C1012.9 477.5 1021.2 480.5 1024.1 485.0C1026.9 489.5 1028.3 496.6 1027.7 503.0C1027.1 509.4 1024.1 517.0 1020.7 523.2C1017.3 529.4 1012.1 536.0 1007.2 540.1C1002.3 544.2 996.4 547.0 991.5 548.0C986.6 549.0 980.2 546.3 978.0 546.0" stroke="#3a3a3a" stroke-width="2.76" fill="none" />
<path d="M1021.9 473.7C1024.2 475.2 1032.6 478.0 1035.4 482.7C1038.2 487.4 1039.6 494.9 1039.0 501.9C1038.4 508.8 1035.6 517.5 1032.0 524.4C1028.4 531.3 1022.8 538.6 1017.4 543.5C1012.0 548.4 1005.2 552.1 999.4 553.6C993.6 555.1 985.3 552.9 982.5 552.7" stroke="#3a3a3a" stroke-width="2.76" fill="none" />
<path d="M1016.2 475.4C1018.5 476.9 1026.9 479.9 1029.7 484.4C1032.5 488.9 1033.8 495.8 1033.3 502.4C1032.8 509.0 1029.9 517.2 1026.4 523.8C1022.9 530.4 1017.5 537.3 1012.3 541.8C1007.1 546.3 998.2 549.3 995.4 550.8" stroke="#888" stroke-width="2.07" fill="none" />
<path d="M966.7 532.5C967.5 533.8 969.3 537.9 971.2 540.1C973.1 542.4 976.9 545.0 978.0 546.0" stroke="#3a3a3a" stroke-width="2.76" fill="none" />
<path d="M926.2 404.0C928.1 404.6 934.5 405.7 937.5 407.4C940.5 409.1 943.1 413.0 944.2 414.1" stroke="#555" stroke-width="2.76" fill="none" />
<path d="M939.7 405.1C941.2 406.4 949.8 410.6 948.7 413.0C947.6 415.4 938.0 416.5 933.0 419.7C928.0 422.9 921.9 427.6 918.4 432.1C914.9 436.6 912.9 440.9 911.8 446.7C910.7 452.5 910.5 460.6 911.6 467.0C912.7 473.4 915.6 480.1 918.4 485.0C921.2 489.9 924.6 492.4 928.5 496.2C932.4 499.9 938.5 504.6 942.0 507.5C945.5 510.4 948.1 512.3 949.3 513.3" stroke="#3a3a3a" stroke-width="2.76" fill="none" />
<path d="M942.0 417.5C939.8 419.8 931.8 425.9 928.5 431.0C925.2 436.1 923.1 441.9 922.0 447.9C920.9 453.9 921.0 461.2 921.7 467.0C922.4 472.8 924.6 478.3 926.2 482.7C927.8 487.1 930.4 491.4 931.3 493.1" stroke="#555" stroke-width="2.76" fill="none" />
<path d="M947.6 414.1C947.6 416.5 948.7 423.4 947.8 428.7C946.9 433.9 943.7 439.6 942.0 445.6C940.3 451.6 938.5 458.5 937.7 464.7C937.0 470.9 936.4 477.4 937.5 482.7C938.6 487.9 941.9 492.8 944.2 496.2C946.5 499.6 950.0 502.0 951.2 503.2" stroke="#3a3a3a" stroke-width="3.91" fill="none" />
<path d="M969.0 420.9C967.1 422.8 960.7 427.8 957.7 432.1C954.7 436.4 952.5 441.6 951.0 446.7C949.5 451.8 949.0 457.2 949.0 462.5C949.0 467.8 949.8 474.4 951.0 478.2C952.2 482.0 955.2 484.0 956.1 485.2" stroke="#3a3a3a" stroke-width="2.76" fill="none" />
<path d="M939.7 405.1C942.3 404.9 950.2 403.4 955.5 404.0C960.8 404.6 966.3 406.2 971.2 408.5C976.1 410.8 980.6 414.3 984.7 417.5C988.8 420.7 992.2 425.0 996.0 427.6C999.8 430.2 1002.0 432.1 1007.2 433.2C1012.5 434.3 1021.9 433.3 1027.5 434.4C1033.1 435.5 1038.8 439.1 1041.0 440.0" stroke="#3a3a3a" stroke-width="2.76" fill="none" />
<path d="M951.0 409.6C953.4 410.2 961.1 411.3 965.6 413.0C970.1 414.7 974.2 417.3 978.0 419.7C981.8 422.1 984.0 425.4 988.1 427.6C992.2 429.9 1000.3 432.3 1002.7 433.2" stroke="#555" stroke-width="2.76" fill="none" />
<path d="M1008.4 447.0C1010.6 446.4 1017.2 444.6 1021.9 443.6C1026.6 442.6 1034.1 441.5 1036.5 441.1" stroke="#222" stroke-width="5.06" fill="none" />
<path d="M881.2 447.9L888.0 443.4L901.5 447.9L904.9 458.0L903.7 471.5L897.0 476.0L883.5 472.6L879.0 464.7Z" stroke="#3a3a3a" stroke-width="3.22" fill="none" />
<path d="M892.5 458.0L899.5 462.7" stroke="#333" stroke-width="3.91" fill="none" />
<path d="M886.9 449.0L889.1 458.0" stroke="#666" stroke-width="2.3" fill="none" />
<path d="M903.7 451.2L911.8 447.9" stroke="#3a3a3a" stroke-width="2.76" fill="none" />
<path d="M903.7 472.6L915.0 478.5" stroke="#3a3a3a" stroke-width="2.76" fill="none" />
<path d="M978.0 436.6L991.5 440.0L989.2 448.1L978.0 445.6Z" stroke="#2a2a2a" stroke-width="3.45" fill="#555" />
<path d="M973.5 458.0C972.8 459.7 968.2 465.8 969.0 468.1C969.8 470.4 976.5 471.1 978.0 471.7" stroke="#3a3a3a" stroke-width="2.76" fill="none" />
<path d="M991.5 449.0C992.7 450.1 998.1 452.7 998.5 455.7C998.9 458.7 996.4 464.7 993.7 467.0C991.0 469.3 984.4 469.1 982.5 469.5" stroke="#3a3a3a" stroke-width="2.76" fill="none" />
<path d="M982.5 447.9L976.9 460.2" stroke="#444" stroke-width="2.76" fill="none" />
<path d="M988.1 449.0L982.5 462.5" stroke="#444" stroke-width="2.76" fill="none" />
<circle cx="915.0" cy="502.8" r="2.4" fill="#111"/>
<circle cx="948.2" cy="514.0" r="2.4" fill="#111"/>
<path d="M1004.0 450.0C1007.5 448.2 1017.8 441.2 1025.0 439.5C1032.2 437.8 1041.2 437.2 1047.5 439.5C1053.8 441.8 1058.8 447.2 1062.5 453.0C1066.2 458.8 1068.7 465.5 1070.0 474.0C1071.3 482.5 1071.5 494.2 1070.3 504.0C1069.0 513.8 1066.3 522.8 1062.5 532.5C1058.7 542.2 1053.8 553.2 1047.5 562.5C1041.2 571.8 1032.5 581.8 1025.0 588.0C1017.5 594.2 1009.2 598.0 1002.5 600.0C995.8 602.0 987.5 600.2 984.5 600.3" stroke="#2a2a2a" stroke-width="2.99" fill="none" />
<path d="M1047.5 438.0C1051.2 440.0 1064.2 444.0 1070.0 450.0C1075.8 456.0 1079.5 465.0 1082.0 474.0C1084.5 483.0 1086.0 493.5 1085.0 504.0C1084.0 514.5 1080.0 526.5 1076.0 537.0C1072.0 547.5 1067.0 557.8 1061.0 567.0C1055.0 576.2 1047.2 586.0 1040.0 592.5C1032.8 599.0 1021.2 603.8 1017.5 606.0" stroke="#3a3a3a" stroke-width="2.76" fill="none" />
<path d="M1010.0 444.0C1012.5 443.6 1020.5 442.3 1025.0 441.7C1029.5 441.1 1035.0 440.4 1037.0 440.2" stroke="#222" stroke-width="4.14" fill="none" />
<path d="M1125.0 449.1L1138.5 457.0L1129.5 472.7L1117.1 466.0Z" stroke="#2a2a2a" stroke-width="2.76" fill="#fff" />
<path d="M1129.5 472.7C1132.5 476.1 1141.7 487.0 1147.5 493.0C1153.3 499.0 1159.7 505.1 1164.4 508.7C1169.1 512.3 1173.7 513.4 1175.6 514.4" stroke="#2a2a2a" stroke-width="3.1" fill="none" />
<path d="M1175.6 514.4L1209.4 529.0L1236.4 538.2L1247.8 525.6L1245.4 518.9" stroke="#2a2a2a" stroke-width="3.1" fill="none" />
<path d="M1138.5 457.0C1141.9 461.5 1152.5 476.9 1158.7 484.0C1164.9 491.1 1170.0 495.9 1175.6 499.7C1181.2 503.4 1189.7 505.4 1192.5 506.5" stroke="#3a3a3a" stroke-width="2.76" fill="none" />
<path d="M1192.5 506.5L1245.4 518.9" stroke="#2a2a2a" stroke-width="3.22" fill="none" />
<path d="M1125.0 449.1C1128.8 449.7 1138.1 450.1 1147.5 452.5C1156.9 454.9 1171.8 459.2 1181.2 463.7C1190.6 468.2 1196.2 473.5 1203.7 479.5C1211.2 485.5 1220.6 494.3 1226.2 499.7C1231.8 505.1 1234.3 508.9 1237.5 512.1C1240.7 515.3 1244.1 517.8 1245.4 518.9" stroke="#3a3a3a" stroke-width="2.76" fill="none" />
<path d="M1158.7 469.4C1158.7 466.8 1165.3 466.6 1170.0 467.1C1174.7 467.7 1181.3 469.9 1186.9 472.7C1192.5 475.5 1199.0 480.2 1203.7 484.0C1208.4 487.8 1212.9 492.2 1215.0 495.2C1217.1 498.2 1218.2 500.8 1216.3 502.0C1214.4 503.2 1208.6 503.3 1203.7 502.2C1198.8 501.1 1192.5 498.4 1186.9 495.2C1181.3 492.0 1174.7 487.2 1170.0 482.9C1165.3 478.6 1158.7 472.0 1158.7 469.4Z" stroke="#3a3a3a" stroke-width="2.76" fill="none" />
<path d="M1163.8 471.8C1165.8 471.6 1170.8 469.6 1175.6 470.7C1180.4 471.8 1187.1 475.1 1192.5 478.6C1197.9 482.1 1205.6 489.7 1208.2 491.9" stroke="#666" stroke-width="2.07" fill="none" />
<path d="M1170.0 490.7C1171.9 492.2 1177.5 497.4 1181.2 499.7C1185.0 501.9 1190.6 503.4 1192.5 504.2" stroke="#333" stroke-width="3.91" fill="none" />
<circle cx="1199.2" cy="497.5" r="2.4" fill="#333"/>
<circle cx="1212.7" cy="500.0" r="2.6" fill="#333"/>
<path d="M1202.6 533.5C1200.9 535.9 1196.1 542.9 1192.5 548.1C1188.9 553.4 1184.6 559.2 1181.2 565.0C1177.8 570.8 1173.7 580.0 1172.2 583.0" stroke="#6e6e6e" stroke-width="4.6" fill="none" />
<path d="M1210.5 534.6C1209.0 537.8 1205.2 546.8 1201.5 553.7C1197.8 560.6 1193.2 568.7 1188.0 576.2C1182.8 583.7 1176.0 591.6 1170.0 598.7C1164.0 605.8 1159.5 612.8 1152.0 619.0C1144.5 625.2 1134.2 631.7 1125.0 635.9C1115.8 640.1 1105.2 642.5 1096.9 644.3C1088.7 646.1 1079.1 646.2 1075.5 646.6" stroke="#3a3a3a" stroke-width="2.76" fill="none" />
<path d="M1172.2 583.0L1165.5 584.1L1154.2 579.6L1139.6 579.6L1129.5 592.0L1117.1 610.0L1107.0 624.6L1096.9 621.2" stroke="#3a3a3a" stroke-width="2.76" fill="none" />
<path d="M1152.0 567.2L1158.7 576.2" stroke="#555" stroke-width="2.76" fill="none" />
<path d="M1143.0 493.0C1142.2 495.6 1140.2 504.2 1138.5 508.7C1136.8 513.2 1133.8 518.1 1132.9 520.0" stroke="#666" stroke-width="2.3" fill="none" />
<path d="M1096.9 621.2C1095.2 622.3 1090.6 625.4 1086.7 628.0C1082.8 630.6 1075.5 635.5 1073.3 637.0" stroke="#3a3a3a" stroke-width="2.76" fill="none" />
<circle cx="1127.2" cy="583.0" r="2" fill="#777"/>
<path d="M1110.4 486.2C1111.7 489.0 1116.5 496.5 1118.2 503.1C1119.9 509.7 1120.9 518.1 1120.7 525.6C1120.5 533.1 1119.2 539.7 1117.1 548.1C1115.0 556.5 1111.8 567.8 1108.1 576.2C1104.3 584.6 1098.5 592.7 1094.6 598.7C1090.7 604.7 1086.2 610.0 1084.5 612.2" stroke="#6c6c6c" stroke-width="9.77" fill="none" stroke-linecap="butt"/>
<path d="M1117.1 478.4C1119.2 481.6 1126.7 490.6 1129.5 497.5C1132.3 504.4 1134.0 512.5 1134.2 520.0C1134.4 527.5 1132.5 535.9 1130.6 542.5C1128.7 549.1 1125.5 552.8 1122.7 559.4C1119.9 566.0 1117.5 574.2 1113.7 581.9C1110.0 589.6 1104.7 599.0 1100.2 605.5C1095.7 612.0 1091.9 616.5 1086.7 621.2C1081.5 625.9 1071.8 631.5 1068.8 633.6" stroke="#3a3a3a" stroke-width="2.76" fill="none" />
<path d="M1102.5 482.9C1103.8 485.7 1108.7 492.6 1110.4 499.7C1112.1 506.8 1112.8 517.5 1112.6 525.6C1112.4 533.7 1111.3 539.7 1109.2 548.1C1107.1 556.5 1103.8 568.1 1100.2 576.2C1096.7 584.3 1090.0 593.1 1087.9 596.5" stroke="#3a3a3a" stroke-width="2.76" fill="none" />
<path d="M1118.2 531.2C1119.3 529.2 1122.5 528.5 1125.0 527.9C1127.5 527.3 1130.5 527.0 1132.9 527.9C1135.3 528.8 1138.2 531.1 1139.6 533.5C1140.9 535.9 1141.9 540.1 1141.0 542.5C1140.1 544.9 1136.7 547.3 1134.0 548.1C1131.3 548.9 1127.6 548.5 1125.0 547.2C1122.4 545.9 1119.3 542.9 1118.2 540.2C1117.1 537.5 1117.1 533.2 1118.2 531.2Z" stroke="#2a2a2a" stroke-width="3.91" fill="#5a5a5a" />
<ellipse cx="1124.4" cy="536.9" rx="4" ry="5.4" fill="#fff" transform="rotate(25 1124.4 536.9)"/>
<path d="M1129.5 549.2C1129.1 550.3 1128.3 554.3 1127.2 556.0C1126.1 557.7 1123.5 558.8 1122.7 559.4" stroke="#333" stroke-width="3.91" fill="none" />
<path d="M1076.6 454.2C1079.4 453.7 1088.2 452.1 1093.5 451.4C1098.8 450.7 1103.2 450.0 1108.1 450.2C1113.0 450.4 1120.3 452.1 1122.7 452.5" stroke="#333" stroke-width="4.83" fill="none" />
<path d="M1102.5 458.1L1109.2 467.1L1104.7 470.5" stroke="#333" stroke-width="3.91" fill="none" />
<path d="M1110.4 450.2L1105.9 458.1L1112.6 461.5L1117.1 452.5" stroke="#333" stroke-width="3.45" fill="none" />
<path d="M1050.0 439.5C1053.2 442.5 1064.5 450.2 1069.5 457.5C1074.5 464.8 1077.8 473.8 1080.0 483.0C1082.2 492.2 1083.8 503.0 1083.0 513.0C1082.2 523.0 1079.0 533.5 1075.5 543.0C1072.0 552.5 1067.5 561.8 1062.0 570.0C1056.5 578.2 1049.5 586.2 1042.5 592.5C1035.5 598.8 1023.8 605.0 1020.0 607.5" stroke="#3a3a3a" stroke-width="2.76" fill="none" />
<path d="M1062.0 444.0C1065.0 447.5 1075.5 457.0 1080.0 465.0C1084.5 473.0 1087.2 483.0 1089.0 492.0C1090.8 501.0 1091.5 509.5 1090.5 519.0C1089.5 528.5 1086.5 539.5 1083.0 549.0C1079.5 558.5 1075.0 567.5 1069.5 576.0C1064.0 584.5 1053.2 596.0 1050.0 600.0" stroke="#555" stroke-width="2.76" fill="none" />
<path d="M1065.0 448.5C1068.0 448.8 1076.5 449.5 1083.0 450.0C1089.5 450.5 1098.0 451.8 1104.0 451.5C1110.0 451.2 1116.5 449.0 1119.0 448.5" stroke="#333" stroke-width="4.6" fill="none" />
<path d="M1083.0 459.0C1085.0 460.0 1091.5 461.0 1095.0 465.0C1098.5 469.0 1102.5 480.0 1104.0 483.0" stroke="#333" stroke-width="3.45" fill="none" />
<circle cx="1096.5" cy="486.7" r="3" fill="#111"/>
<path d="M1071.0 501.0L1086.0 510.0" stroke="#3a3a3a" stroke-width="2.53" fill="none" />
<path d="M1069.5 531.0L1083.0 534.0" stroke="#3a3a3a" stroke-width="2.53" fill="none" />
<path d="M1092.0 498.0C1093.0 501.0 1097.5 509.0 1098.0 516.0C1098.5 523.0 1096.8 532.5 1095.0 540.0C1093.2 547.5 1088.8 557.5 1087.5 561.0" stroke="#666" stroke-width="2.3" fill="none" />
<path d="M1053.0 564.0C1055.0 564.5 1062.0 564.5 1065.0 567.0C1068.0 569.5 1071.2 576.0 1071.0 579.0C1070.8 582.0 1067.0 584.2 1063.5 585.0C1060.0 585.8 1052.2 583.8 1050.0 583.5" stroke="#333" stroke-width="3.45" fill="none" />
<path d="M1044.0 576.0C1046.2 576.0 1054.0 574.8 1057.5 576.0C1061.0 577.2 1063.8 582.2 1065.0 583.5" stroke="#555" stroke-width="2.3" fill="none" />
<path d="M1077.0 564.0C1079.0 565.0 1086.5 566.5 1089.0 570.0C1091.5 573.5 1093.0 580.0 1092.0 585.0C1091.0 590.0 1084.5 597.5 1083.0 600.0" stroke="#444" stroke-width="2.76" fill="none" />
<path d="M1091.5 469.2L1096.7 517.8" stroke="#2e2e2e" stroke-width="5" stroke-dasharray="7 5" fill="none" stroke-linecap="butt"/>
<path d="M1079.9 485.0C1080.5 489.4 1083.2 502.4 1083.6 511.2C1083.9 520.0 1082.3 533.1 1082.0 537.5" stroke="#444" stroke-width="3.45" fill="none" />
<path d="M1041.1 590.0C1044.2 592.2 1052.1 599.0 1059.5 603.1C1066.9 607.2 1081.3 612.9 1085.7 614.9" stroke="#2e2e2e" stroke-width="3.91" fill="none" />
<path d="M1049.0 583.4C1052.0 585.4 1060.3 591.5 1067.3 595.2C1074.3 598.9 1087.0 604.0 1091.0 605.7" stroke="#3a3a3a" stroke-width="3.45" fill="none" />
<path d="M1043.7 599.2L1054.2 608.3L1064.7 601.8L1075.2 613.6" stroke="#333" stroke-width="3.45" fill="none" />
<path d="M1062.1 563.7C1063.4 565.0 1069.1 568.1 1070.0 571.6C1070.9 575.1 1069.9 582.1 1067.3 584.7C1064.7 587.3 1056.4 586.9 1054.2 587.3" stroke="#333" stroke-width="3.45" fill="none" />
<path d="M1028.0 611.0L1043.7 617.5L1059.5 625.4L1077.8 622.8" stroke="#2e2e2e" stroke-width="3.68" fill="none" />
<path d="M1097.5 466.6L1104.1 458.7L1112.0 456.1" stroke="#2e2e2e" stroke-width="4.14" fill="none" />
<path d="M1027.5 624.0L1027.5 645.0L1038.0 660.0L1056.0 664.5L1084.5 642.0L1083.0 633.0L1071.0 625.5" stroke="#2a2a2a" stroke-width="2.76" fill="none" />
<path d="M1035.0 633.0C1036.8 632.0 1042.9 636.5 1044.0 639.0C1045.1 641.5 1043.5 647.0 1041.7 648.0C1040.0 649.0 1034.6 647.5 1033.5 645.0C1032.4 642.5 1033.2 634.0 1035.0 633.0Z" stroke="#444" stroke-width="2.3" fill="none" />
<path d="M1056.0 657.0L1080.0 639.0" stroke="#555" stroke-width="2.3" fill="none" />
<path d="M1044.0 654.0L1056.0 658.5" stroke="#555" stroke-width="2.3" fill="none" />
<path d="M982.5 600.0L1005.0 604.5L1027.5 618.0L1050.0 627.0L1071.0 625.5" stroke="#333" stroke-width="3.45" fill="none" />
<path d="M1011.0 597.0L1026.0 588.0L1038.0 576.0" stroke="#2a2a2a" stroke-width="3.91" fill="none" />
<path d="M1029.0 606.0L1044.0 600.0L1056.0 604.5L1065.0 618.0" stroke="#444" stroke-width="3.45" fill="none" />
<path d="M1047.0 633.0L1059.0 643.5L1065.0 636.0" stroke="#333" stroke-width="3.91" fill="none" />
<path d="M1069.5 624.0L1089.0 615.0L1104.0 606.0" stroke="#444" stroke-width="2.76" fill="none" />
<path d="M1074.0 630.0L1092.0 621.0" stroke="#444" stroke-width="2.76" fill="none" />
<text x="284" y="281.2" font-family="Liberation Sans, sans-serif" font-weight="bold" font-size="32" fill="#2b3263" stroke="#2b3263" stroke-width="0.5" textLength="62" lengthAdjust="spacingAndGlyphs">HS3</text>
<text x="661" y="520.2" font-family="Liberation Sans, sans-serif" font-weight="bold" font-size="32" fill="#2b3263" stroke="#2b3263" stroke-width="0.5" textLength="116" lengthAdjust="spacingAndGlyphs">6C646A</text>
<text x="1051.5" y="920.7" font-family="Liberation Sans, sans-serif" font-weight="bold" font-size="32" fill="#2b3263" stroke="#2b3263" stroke-width="0.5" textLength="115.5" lengthAdjust="spacingAndGlyphs">6C646B</text>
<text x="989.5" y="1246.7" font-family="Liberation Sans, sans-serif" font-weight="bold" font-size="32" fill="#2b3263" stroke="#2b3263" stroke-width="0.5" textLength="62.5" lengthAdjust="spacingAndGlyphs">HS2</text>
<text x="293.5" y="1335.2" font-family="Liberation Sans, sans-serif" font-weight="bold" font-size="32" fill="#2b3263" stroke="#2b3263" stroke-width="0.5" textLength="60.5" lengthAdjust="spacingAndGlyphs">HS1</text>
<path d="M723.0 392.0L723.0 483.0" stroke="#444" stroke-width="2.3" fill="none" />
<circle cx="723" cy="393" r="2.8" fill="#111"/>
<path d="M1106.0 944.0L1106.0 1024.0" stroke="#444" stroke-width="2.3" fill="none" />
<circle cx="1106" cy="1024" r="3" fill="#111"/>
<path d="M324.5 1230.0L324.5 1297.0" stroke="#777" stroke-width="2.53" fill="none" />
<path d="M1062.0 1240.0L1083.0 1240.0" stroke="#555" stroke-width="2.3" fill="none" />
<circle cx="1085" cy="1240" r="2.8" fill="#111"/>
</g>
</svg>
</body></html>
